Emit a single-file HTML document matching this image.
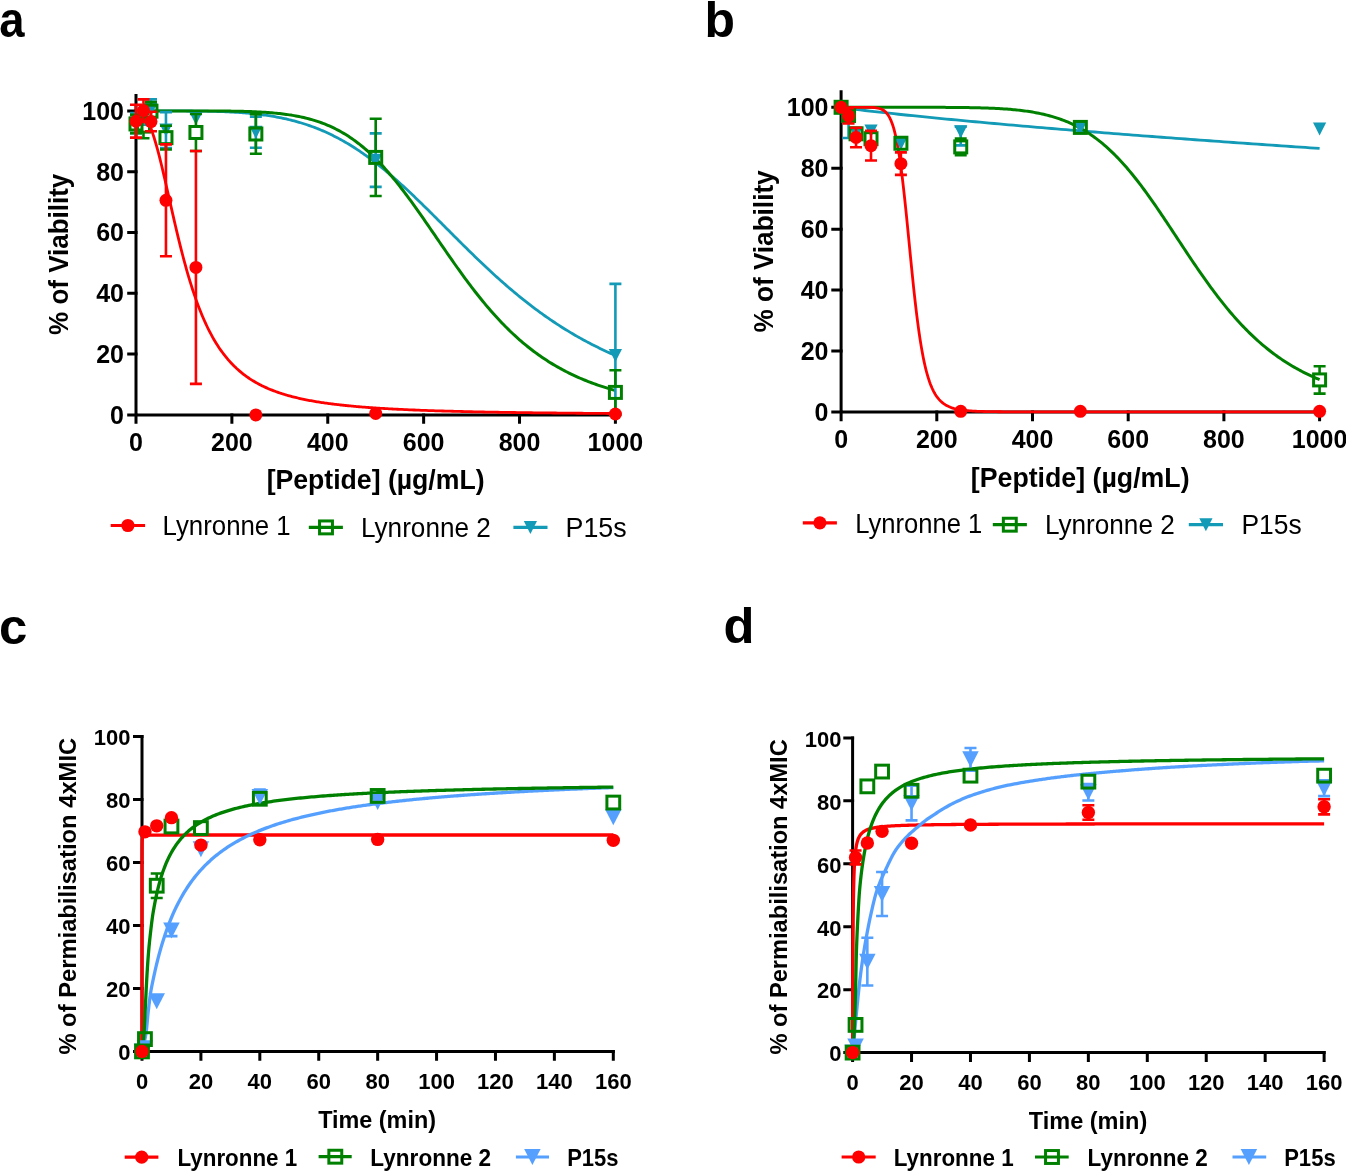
<!DOCTYPE html>
<html><head><meta charset="utf-8"><title>Figure</title><style>html,body{margin:0;padding:0;background:#fff;overflow:hidden}svg{display:block;will-change:transform}text{font-family:"Liberation Sans",sans-serif;fill:#000}</style></head><body>
<svg width="1346" height="1172" viewBox="0 0 1346 1172">
<rect width="1346" height="1172" fill="#fff"/>
<text x="-0.66" y="36.8" font-size="50" font-weight="bold" textLength="25.26" lengthAdjust="spacingAndGlyphs">a</text>
<text x="704.56" y="36.8" font-size="50" font-weight="bold" textLength="30.48" lengthAdjust="spacingAndGlyphs">b</text>
<text x="-1.14" y="643.5" font-size="50" font-weight="bold" textLength="28.32" lengthAdjust="spacingAndGlyphs">c</text>
<text x="723.47" y="643.3" font-size="50" font-weight="bold" textLength="30.97" lengthAdjust="spacingAndGlyphs">d</text>
<path d="M136 93.9V414.9" stroke="#000" stroke-width="3" fill="none"/>
<path d="M136 414.9H617" stroke="#000" stroke-width="3" fill="none"/>
<path d="M127.2 414.9H137.5M127.2 354.1H137.5M127.2 293.3H137.5M127.2 232.5H137.5M127.2 171.7H137.5M127.2 110.9H137.5M136 413.4V423.8M231.88 413.4V423.8M327.76 413.4V423.8M423.64 413.4V423.8M519.52 413.4V423.8M615.4 413.4V423.8" stroke="#000" stroke-width="3" fill="none"/>
<text x="124" y="423.7" font-size="25" font-weight="bold" text-anchor="end">0</text>
<text x="124" y="362.9" font-size="25" font-weight="bold" text-anchor="end">20</text>
<text x="124" y="302.1" font-size="25" font-weight="bold" text-anchor="end">40</text>
<text x="124" y="241.3" font-size="25" font-weight="bold" text-anchor="end">60</text>
<text x="124" y="180.5" font-size="25" font-weight="bold" text-anchor="end">80</text>
<text x="124" y="119.7" font-size="25" font-weight="bold" text-anchor="end">100</text>
<text x="136" y="450.5" font-size="25" font-weight="bold" text-anchor="middle">0</text>
<text x="231.88" y="450.5" font-size="25" font-weight="bold" text-anchor="middle">200</text>
<text x="327.76" y="450.5" font-size="25" font-weight="bold" text-anchor="middle">400</text>
<text x="423.64" y="450.5" font-size="25" font-weight="bold" text-anchor="middle">600</text>
<text x="519.52" y="450.5" font-size="25" font-weight="bold" text-anchor="middle">800</text>
<text x="615.4" y="450.5" font-size="25" font-weight="bold" text-anchor="middle">1000</text>
<text x="266.64" y="488.6" font-size="26.5" font-weight="bold" textLength="217.91" lengthAdjust="spacingAndGlyphs" transform="matrix(1 0 0 1.05 0 -24.43)">[Peptide] (µg/mL)</text>
<text transform="translate(67.6 334.95) rotate(-90) scale(1 1.05)" x="0" y="0" font-size="26" font-weight="bold" textLength="161.28" lengthAdjust="spacingAndGlyphs">% of Viability</text>
<path d="M136 110.9L137.6 110.9L139.2 110.9L140.79 110.9L142.39 110.9L143.99 110.9L145.59 110.9L147.19 110.9L148.78 110.9L150.38 110.9L151.98 110.9L153.58 110.9L155.18 110.9L156.77 110.9L158.37 110.9L159.97 110.9L161.57 110.9L163.17 110.91L164.76 110.91L166.36 110.91L167.96 110.91L169.56 110.91L171.16 110.92L172.75 110.92L174.35 110.92L175.95 110.93L177.55 110.93L179.15 110.94L180.74 110.94L182.34 110.95L183.94 110.96L185.54 110.97L187.14 110.98L188.73 110.99L190.33 111L191.93 111.02L193.53 111.03L195.13 111.05L196.72 111.07L198.32 111.09L199.92 111.11L201.52 111.13L203.12 111.16L204.71 111.18L206.31 111.21L207.91 111.24L209.51 111.28L211.11 111.32L212.7 111.36L214.3 111.4L215.9 111.44L217.5 111.49L219.1 111.54L220.69 111.6L222.29 111.66L223.89 111.72L225.49 111.78L227.09 111.85L228.68 111.93L230.28 112.01L231.88 112.09L233.48 112.18L235.08 112.27L236.67 112.37L238.27 112.47L239.87 112.58L241.47 112.69L243.07 112.81L244.66 112.94L246.26 113.07L247.86 113.21L249.46 113.35L251.06 113.51L252.65 113.66L254.25 113.83L255.85 114L257.45 114.18L259.05 114.37L260.64 114.57L262.24 114.77L263.84 114.99L265.44 115.21L267.04 115.44L268.63 115.68L270.23 115.93L271.83 116.19L273.43 116.46L275.03 116.74L276.62 117.03L278.22 117.33L279.82 117.64L281.42 117.96L283.02 118.29L284.61 118.64L286.21 118.99L287.81 119.36L289.41 119.74L291.01 120.13L292.6 120.54L294.2 120.96L295.8 121.39L297.4 121.83L299 122.29L300.59 122.76L302.19 123.25L303.79 123.75L305.39 124.26L306.99 124.79L308.58 125.33L310.18 125.89L311.78 126.46L313.38 127.05L314.98 127.65L316.57 128.27L318.17 128.9L319.77 129.55L321.37 130.22L322.97 130.9L324.56 131.59L326.16 132.31L327.76 133.04L329.36 133.79L330.96 134.55L332.55 135.33L334.15 136.13L335.75 136.94L337.35 137.78L338.95 138.62L340.54 139.49L342.14 140.37L343.74 141.27L345.34 142.19L346.94 143.12L348.53 144.07L350.13 145.04L351.73 146.03L353.33 147.03L354.93 148.05L356.52 149.09L358.12 150.14L359.72 151.21L361.32 152.3L362.92 153.4L364.51 154.52L366.11 155.66L367.71 156.81L369.31 157.98L370.91 159.17L372.5 160.37L374.1 161.59L375.7 162.82L377.3 164.07L378.9 165.33L380.49 166.61L382.09 167.9L383.69 169.2L385.29 170.53L386.89 171.86L388.48 173.21L390.08 174.57L391.68 175.94L393.28 177.33L394.88 178.73L396.47 180.14L398.07 181.56L399.67 183L401.27 184.44L402.87 185.9L404.46 187.36L406.06 188.84L407.66 190.33L409.26 191.82L410.86 193.33L412.45 194.84L414.05 196.36L415.65 197.89L417.25 199.43L418.85 200.97L420.44 202.52L422.04 204.08L423.64 205.64L425.24 207.21L426.84 208.78L428.43 210.36L430.03 211.94L431.63 213.53L433.23 215.12L434.83 216.71L436.42 218.3L438.02 219.9L439.62 221.5L441.22 223.1L442.82 224.7L444.41 226.3L446.01 227.91L447.61 229.51L449.21 231.11L450.81 232.71L452.4 234.31L454 235.91L455.6 237.51L457.2 239.1L458.8 240.69L460.39 242.28L461.99 243.87L463.59 245.45L465.19 247.03L466.79 248.6L468.38 250.17L469.98 251.74L471.58 253.3L473.18 254.85L474.78 256.4L476.37 257.95L477.97 259.48L479.57 261.01L481.17 262.54L482.77 264.05L484.36 265.56L485.96 267.06L487.56 268.56L489.16 270.04L490.76 271.52L492.35 272.99L493.95 274.45L495.55 275.91L497.15 277.35L498.75 278.79L500.34 280.21L501.94 281.63L503.54 283.04L505.14 284.43L506.74 285.82L508.33 287.2L509.93 288.57L511.53 289.92L513.13 291.27L514.73 292.61L516.32 293.94L517.92 295.25L519.52 296.56L521.12 297.86L522.72 299.14L524.31 300.42L525.91 301.68L527.51 302.93L529.11 304.17L530.71 305.4L532.3 306.62L533.9 307.83L535.5 309.03L537.1 310.22L538.7 311.39L540.29 312.56L541.89 313.71L543.49 314.85L545.09 315.99L546.69 317.11L548.28 318.22L549.88 319.31L551.48 320.4L553.08 321.48L554.68 322.54L556.27 323.6L557.87 324.64L559.47 325.68L561.07 326.7L562.67 327.71L564.26 328.71L565.86 329.7L567.46 330.68L569.06 331.65L570.66 332.61L572.25 333.55L573.85 334.49L575.45 335.42L577.05 336.34L578.65 337.24L580.24 338.14L581.84 339.03L583.44 339.9L585.04 340.77L586.64 341.63L588.23 342.47L589.83 343.31L591.43 344.14L593.03 344.96L594.63 345.77L596.22 346.56L597.82 347.35L599.42 348.14L601.02 348.91L602.62 349.67L604.21 350.42L605.81 351.17L607.41 351.9L609.01 352.63L610.61 353.35L612.2 354.06L613.8 354.76L615.4 355.45" stroke="#129ab6" stroke-width="2.8" fill="none" stroke-linejoin="round" stroke-linecap="butt"/>
<path d="M136 110.9L137.6 110.9L139.2 110.9L140.79 110.9L142.39 110.9L143.99 110.9L145.59 110.9L147.19 110.9L148.78 110.9L150.38 110.9L151.98 110.9L153.58 110.9L155.18 110.9L156.77 110.9L158.37 110.9L159.97 110.9L161.57 110.9L163.17 110.9L164.76 110.9L166.36 110.9L167.96 110.9L169.56 110.9L171.16 110.9L172.75 110.9L174.35 110.9L175.95 110.9L177.55 110.9L179.15 110.9L180.74 110.9L182.34 110.9L183.94 110.9L185.54 110.9L187.14 110.91L188.73 110.91L190.33 110.91L191.93 110.91L193.53 110.91L195.13 110.91L196.72 110.92L198.32 110.92L199.92 110.92L201.52 110.93L203.12 110.93L204.71 110.93L206.31 110.94L207.91 110.94L209.51 110.95L211.11 110.96L212.7 110.97L214.3 110.97L215.9 110.98L217.5 110.99L219.1 111L220.69 111.02L222.29 111.03L223.89 111.05L225.49 111.06L227.09 111.08L228.68 111.1L230.28 111.12L231.88 111.15L233.48 111.17L235.08 111.2L236.67 111.23L238.27 111.26L239.87 111.29L241.47 111.33L243.07 111.37L244.66 111.42L246.26 111.46L247.86 111.51L249.46 111.57L251.06 111.62L252.65 111.69L254.25 111.75L255.85 111.82L257.45 111.9L259.05 111.98L260.64 112.06L262.24 112.15L263.84 112.25L265.44 112.35L267.04 112.46L268.63 112.58L270.23 112.7L271.83 112.83L273.43 112.97L275.03 113.12L276.62 113.27L278.22 113.43L279.82 113.61L281.42 113.79L283.02 113.98L284.61 114.18L286.21 114.4L287.81 114.62L289.41 114.86L291.01 115.1L292.6 115.36L294.2 115.64L295.8 115.92L297.4 116.22L299 116.54L300.59 116.87L302.19 117.21L303.79 117.57L305.39 117.95L306.99 118.35L308.58 118.76L310.18 119.19L311.78 119.64L313.38 120.11L314.98 120.59L316.57 121.1L318.17 121.63L319.77 122.18L321.37 122.75L322.97 123.35L324.56 123.96L326.16 124.61L327.76 125.27L329.36 125.96L330.96 126.68L332.55 127.42L334.15 128.19L335.75 128.98L337.35 129.8L338.95 130.65L340.54 131.53L342.14 132.44L343.74 133.37L345.34 134.34L346.94 135.34L348.53 136.36L350.13 137.42L351.73 138.51L353.33 139.63L354.93 140.78L356.52 141.97L358.12 143.18L359.72 144.43L361.32 145.71L362.92 147.03L364.51 148.38L366.11 149.76L367.71 151.17L369.31 152.62L370.91 154.1L372.5 155.62L374.1 157.16L375.7 158.74L377.3 160.36L378.9 162L380.49 163.68L382.09 165.39L383.69 167.13L385.29 168.9L386.89 170.7L388.48 172.53L390.08 174.4L391.68 176.29L393.28 178.21L394.88 180.15L396.47 182.13L398.07 184.13L399.67 186.16L401.27 188.21L402.87 190.28L404.46 192.38L406.06 194.5L407.66 196.64L409.26 198.8L410.86 200.98L412.45 203.18L414.05 205.39L415.65 207.62L417.25 209.87L418.85 212.13L420.44 214.4L422.04 216.68L423.64 218.98L425.24 221.28L426.84 223.59L428.43 225.91L430.03 228.23L431.63 230.56L433.23 232.89L434.83 235.22L436.42 237.56L438.02 239.89L439.62 242.23L441.22 244.56L442.82 246.88L444.41 249.21L446.01 251.52L447.61 253.83L449.21 256.14L450.81 258.43L452.4 260.72L454 262.99L455.6 265.25L457.2 267.5L458.8 269.74L460.39 271.96L461.99 274.17L463.59 276.37L465.19 278.54L466.79 280.7L468.38 282.84L469.98 284.97L471.58 287.07L473.18 289.16L474.78 291.22L476.37 293.27L477.97 295.29L479.57 297.3L481.17 299.28L482.77 301.24L484.36 303.17L485.96 305.09L487.56 306.98L489.16 308.85L490.76 310.69L492.35 312.51L493.95 314.31L495.55 316.08L497.15 317.83L498.75 319.55L500.34 321.25L501.94 322.93L503.54 324.58L505.14 326.21L506.74 327.81L508.33 329.39L509.93 330.95L511.53 332.48L513.13 333.98L514.73 335.47L516.32 336.92L517.92 338.36L519.52 339.77L521.12 341.16L522.72 342.52L524.31 343.87L525.91 345.19L527.51 346.48L529.11 347.76L530.71 349.01L532.3 350.24L533.9 351.45L535.5 352.63L537.1 353.8L538.7 354.95L540.29 356.07L541.89 357.17L543.49 358.26L545.09 359.32L546.69 360.36L548.28 361.39L549.88 362.4L551.48 363.38L553.08 364.35L554.68 365.3L556.27 366.23L557.87 367.15L559.47 368.04L561.07 368.92L562.67 369.79L564.26 370.63L565.86 371.46L567.46 372.28L569.06 373.08L570.66 373.86L572.25 374.63L573.85 375.38L575.45 376.12L577.05 376.84L578.65 377.55L580.24 378.25L581.84 378.93L583.44 379.6L585.04 380.25L586.64 380.89L588.23 381.52L589.83 382.14L591.43 382.75L593.03 383.34L594.63 383.92L596.22 384.49L597.82 385.05L599.42 385.6L601.02 386.14L602.62 386.66L604.21 387.18L605.81 387.68L607.41 388.18L609.01 388.67L610.61 389.14L612.2 389.61L613.8 390.07L615.4 390.51" stroke="#008000" stroke-width="3" fill="none" stroke-linejoin="round" stroke-linecap="butt"/>
<path d="M136 110.9L138.4 111.15L139.6 111.55L140.79 112.17L141.99 113.05L143.19 114.19L144.39 115.61L145.59 117.32L146.79 119.32L147.99 121.62L149.18 124.2L150.38 127.08L151.58 130.23L152.78 133.64L153.98 137.31L155.18 141.23L156.37 145.36L157.57 149.7L158.77 154.23L159.97 158.93L161.17 163.77L162.37 168.74L163.57 173.81L164.76 178.97L165.96 184.19L167.16 189.46L168.36 194.76L169.56 200.08L170.76 205.38L171.95 210.67L173.15 215.92L174.35 221.13L175.55 226.28L176.75 231.37L177.95 236.38L179.15 241.3L180.34 246.14L181.54 250.88L182.74 255.52L183.94 260.05L185.14 264.48L186.34 268.8L187.54 273.01L188.73 277.11L189.93 281.09L191.13 284.96L192.33 288.73L193.53 292.38L194.73 295.92L195.93 299.35L197.12 302.68L198.32 305.9L199.52 309.03L200.72 312.05L201.92 314.98L203.12 317.81L204.31 320.55L205.51 323.2L206.71 325.76L207.91 328.24L209.11 330.63L210.31 332.95L211.51 335.19L212.7 337.36L213.9 339.45L215.1 341.48L216.3 343.44L217.5 345.33L218.7 347.16L219.89 348.93L221.09 350.64L222.29 352.3L223.49 353.9L224.69 355.45L225.89 356.95L227.09 358.41L228.28 359.81L229.48 361.17L230.68 362.49L231.88 363.76L233.08 365L234.28 366.2L235.48 367.35L236.67 368.48L237.87 369.56L239.07 370.62L240.27 371.64L241.47 372.63L242.67 373.59L243.87 374.53L245.06 375.43L246.26 376.31L247.46 377.16L248.66 377.99L249.86 378.79L251.06 379.57L252.25 380.32L253.45 381.06L254.65 381.77L255.85 382.47L257.05 383.14L258.25 383.8L259.45 384.43L260.64 385.05L261.84 385.65L263.04 386.24L264.24 386.81L265.44 387.36L266.64 387.9L267.84 388.43L269.03 388.94L270.23 389.44L271.43 389.92L272.63 390.4L273.83 390.86L275.03 391.31L276.22 391.74L277.42 392.17L278.62 392.58L279.82 392.99L281.02 393.38L282.22 393.77L283.42 394.15L284.61 394.51L285.81 394.87L287.01 395.22L288.21 395.56L289.41 395.89L290.61 396.22L291.81 396.53L293 396.84L294.2 397.15L295.4 397.44L296.6 397.73L297.8 398.01L299 398.29L300.19 398.56L301.39 398.82L302.59 399.08L303.79 399.33L304.99 399.58L306.19 399.82L307.39 400.05L308.58 400.28L309.78 400.51L310.98 400.73L312.18 400.95L313.38 401.16L314.58 401.36L315.77 401.57L316.97 401.76L318.17 401.96L319.37 402.15L320.57 402.34L321.77 402.52L322.97 402.7L324.16 402.87L325.36 403.05L326.56 403.21L327.76 403.38L328.96 403.54L330.16 403.7L331.36 403.85L332.55 404.01L333.75 404.16L334.95 404.3L336.15 404.45L337.35 404.59L338.55 404.73L339.75 404.86L340.94 405L342.14 405.13L343.34 405.26L344.54 405.38L345.74 405.51L346.94 405.63L348.13 405.75L349.33 405.87L350.53 405.98L351.73 406.09L352.93 406.2L354.13 406.31L355.33 406.42L356.52 406.53L357.72 406.63L358.92 406.73L360.12 406.83L361.32 406.93L362.52 407.03L363.72 407.12L364.91 407.21L366.11 407.31L367.31 407.4L368.51 407.49L369.71 407.57L370.91 407.66L372.1 407.74L373.3 407.83L374.5 407.91L375.7 407.99L376.9 408.07L378.1 408.15L379.3 408.22L380.49 408.3L381.69 408.37L382.89 408.44L384.09 408.52L385.29 408.59L386.49 408.66L387.69 408.72L388.88 408.79L390.08 408.86L391.28 408.92L392.48 408.99L393.68 409.05L394.88 409.11L396.07 409.18L397.27 409.24L399.67 409.36L402.07 409.47L404.46 409.58L406.86 409.69L409.26 409.8L411.65 409.9L414.05 410L416.45 410.09L418.85 410.19L421.24 410.28L423.64 410.37L426.04 410.46L428.43 410.54L430.83 410.62L433.23 410.7L435.62 410.78L438.02 410.86L440.42 410.93L442.82 411L445.21 411.07L447.61 411.14L450.01 411.21L452.4 411.27L454.8 411.33L457.2 411.4L459.59 411.46L461.99 411.51L464.39 411.57L466.79 411.63L469.18 411.68L471.58 411.74L473.98 411.79L476.37 411.84L478.77 411.89L481.17 411.94L483.56 411.99L485.96 412.03L488.36 412.08L490.76 412.12L493.15 412.17L495.55 412.21L497.95 412.25L500.34 412.29L502.74 412.33L505.14 412.37L507.53 412.41L509.93 412.44L512.33 412.48L514.73 412.52L517.12 412.55L519.52 412.59L521.92 412.62L524.31 412.65L526.71 412.68L529.11 412.72L531.5 412.75L533.9 412.78L536.3 412.81L538.7 412.84L541.09 412.86L543.49 412.89L545.89 412.92L548.28 412.95L550.68 412.97L553.08 413L555.47 413.02L557.87 413.05L560.27 413.07L562.67 413.1L565.06 413.12L567.46 413.14L569.86 413.17L572.25 413.19L574.65 413.21L577.05 413.23L579.44 413.25L581.84 413.27L584.24 413.29L586.64 413.31L589.03 413.33L591.43 413.35L593.83 413.37L596.22 413.39L598.62 413.41L601.02 413.43L603.41 413.44L605.81 413.46L608.21 413.48L610.61 413.5L613 413.51L615.4 413.53" stroke="#ff0000" stroke-width="2.8" fill="none" stroke-linejoin="round" stroke-linecap="butt"/>
<path d="M136 123.05V113.03M130 113.03H142M136 123.07V133.09M130 133.09H142" stroke="#129ab6" stroke-width="2.6" fill="none"/>
<path d="M143.48 116.97V109.38M137.48 109.38H149.48M143.48 116.99V124.58M137.48 124.58H149.48" stroke="#129ab6" stroke-width="2.6" fill="none"/>
<path d="M150.98 109.37V99.35M144.98 99.35H156.98M150.98 109.39V119.41M144.98 119.41H156.98" stroke="#129ab6" stroke-width="2.6" fill="none"/>
<path d="M165.96 130.04V112.12M159.96 112.12H171.96M165.96 130.06V147.99M159.96 147.99H171.96" stroke="#129ab6" stroke-width="2.6" fill="none"/>
<path d="M255.85 132.17V116.68M249.85 116.68H261.85M255.85 132.19V147.68M249.85 147.68H261.85" stroke="#129ab6" stroke-width="2.6" fill="none"/>
<path d="M375.7 160.14V133.4M369.7 133.4H381.7M375.7 160.16V186.9M369.7 186.9H381.7" stroke="#129ab6" stroke-width="2.6" fill="none"/>
<path d="M615.4 355.61V283.88M609.4 283.88H621.4M615.4 355.63V414.9M609.4 414.9H621.4" stroke="#129ab6" stroke-width="2.6" fill="none"/>
<path d="M129.4 116.56H142.6L136 129.56Z" fill="#129ab6"/>
<path d="M136.88 110.48H150.08L143.48 123.48Z" fill="#129ab6"/>
<path d="M144.38 102.88H157.58L150.98 115.88Z" fill="#129ab6"/>
<path d="M159.36 123.55H172.56L165.96 136.55Z" fill="#129ab6"/>
<path d="M189.33 112H202.53L195.93 125Z" fill="#129ab6"/>
<path d="M249.25 125.68H262.45L255.85 138.68Z" fill="#129ab6"/>
<path d="M369.1 153.65H382.3L375.7 166.65Z" fill="#129ab6"/>
<path d="M608.8 349.12H622L615.4 362.12Z" fill="#129ab6"/>
<path d="M136 116.97V114.85M130 114.85H142M136 130.97V133.09M130 133.09H142" stroke="#008000" stroke-width="2.6" fill="none"/>
<path d="M143.48 119.1V113.94M137.48 113.94H149.48M143.48 133.1V138.26M137.48 138.26H149.48" stroke="#008000" stroke-width="2.6" fill="none"/>
<path d="M150.98 104.2V102.08M144.98 102.08H156.98M150.98 118.2V120.32M144.98 120.32H156.98" stroke="#008000" stroke-width="2.6" fill="none"/>
<path d="M165.96 130.65V125.8M159.96 125.8H171.96M165.96 144.65V149.51M159.96 149.51H171.96" stroke="#008000" stroke-width="2.6" fill="none"/>
<path d="M195.93 125.48V113.94M189.93 113.94H201.93M195.93 139.48V151.03M189.93 151.03H201.93" stroke="#008000" stroke-width="2.6" fill="none"/>
<path d="M255.85 127V114.24M249.85 114.24H261.85M255.85 141V153.76M249.85 153.76H261.85" stroke="#008000" stroke-width="2.6" fill="none"/>
<path d="M375.7 150.41V118.8M369.7 118.8H381.7M375.7 164.41V196.02M369.7 196.02H381.7" stroke="#008000" stroke-width="2.6" fill="none"/>
<path d="M615.4 385.4V370.21M609.4 370.21H621.4M615.4 399.4V414.6M609.4 414.6H621.4" stroke="#008000" stroke-width="2.6" fill="none"/>
<rect x="130" y="117.97" width="12" height="12" fill="none" stroke="#008000" stroke-width="3"/>
<rect x="137.48" y="120.1" width="12" height="12" fill="none" stroke="#008000" stroke-width="3"/>
<rect x="144.98" y="105.2" width="12" height="12" fill="none" stroke="#008000" stroke-width="3"/>
<rect x="159.96" y="131.65" width="12" height="12" fill="none" stroke="#008000" stroke-width="3"/>
<rect x="189.93" y="126.48" width="12" height="12" fill="none" stroke="#008000" stroke-width="3"/>
<rect x="249.85" y="128" width="12" height="12" fill="none" stroke="#008000" stroke-width="3"/>
<rect x="369.7" y="151.41" width="12" height="12" fill="none" stroke="#008000" stroke-width="3"/>
<rect x="609.4" y="386.4" width="12" height="12" fill="none" stroke="#008000" stroke-width="3"/>
<path d="M136 121.23V104.82M130 104.82H142M136 121.25V137.65M130 137.65H142" stroke="#ff0000" stroke-width="2.6" fill="none"/>
<path d="M143.48 110.59V99.35M137.48 99.35H149.48M143.48 110.61V121.84M137.48 121.84H149.48" stroke="#ff0000" stroke-width="2.6" fill="none"/>
<path d="M150.98 121.53V111.81M144.98 111.81H156.98M150.98 121.55V131.27M144.98 131.27H156.98" stroke="#ff0000" stroke-width="2.6" fill="none"/>
<path d="M165.96 200.27V144.34M159.96 144.34H171.96M165.96 200.29V256.21M159.96 256.21H171.96" stroke="#ff0000" stroke-width="2.6" fill="none"/>
<path d="M195.93 267.45V151.03M189.93 151.03H201.93M195.93 267.47V383.89M189.93 383.89H201.93" stroke="#ff0000" stroke-width="2.6" fill="none"/>
<circle cx="136" cy="121.24" r="6.5" fill="#ff0000"/>
<circle cx="143.48" cy="110.6" r="6.5" fill="#ff0000"/>
<circle cx="150.98" cy="121.54" r="6.5" fill="#ff0000"/>
<circle cx="165.96" cy="200.28" r="6.5" fill="#ff0000"/>
<circle cx="195.93" cy="267.46" r="6.5" fill="#ff0000"/>
<circle cx="255.85" cy="414.9" r="6.5" fill="#ff0000"/>
<circle cx="375.7" cy="413.38" r="6.5" fill="#ff0000"/>
<circle cx="615.4" cy="413.99" r="6.5" fill="#ff0000"/>
<path d="M110.7 525.5H145.1" stroke="#ff0000" stroke-width="3.2"/>
<circle cx="127.9" cy="525.5" r="6.6" fill="#ff0000"/>
<path d="M308.8 527.4H342.9" stroke="#008000" stroke-width="3.2"/>
<rect x="319.55" y="520.95" width="12.9" height="12.9" fill="none" stroke="#008000" stroke-width="3"/>
<path d="M513.4 527.4H547.5" stroke="#129ab6" stroke-width="3.2"/>
<path d="M523.8 520.9H537L530.4 533.9Z" fill="#129ab6"/>
<text x="162.54" y="535.3" font-size="26" font-weight="normal" textLength="128.21" lengthAdjust="spacingAndGlyphs" transform="matrix(1 0 0 1.05 0 -26.77)">Lynronne 1</text>
<text x="361.01" y="537.4" font-size="26" font-weight="normal" textLength="129.75" lengthAdjust="spacingAndGlyphs" transform="matrix(1 0 0 1.05 0 -26.87)">Lynronne 2</text>
<text x="565.55" y="537.4" font-size="26" font-weight="normal" textLength="61.17" lengthAdjust="spacingAndGlyphs" transform="matrix(1 0 0 1.05 0 -26.87)">P15s</text>
<path d="M841.1 90.2V411.9" stroke="#000" stroke-width="3" fill="none"/>
<path d="M841.1 411.9H1321" stroke="#000" stroke-width="3" fill="none"/>
<path d="M831.3 411.9H842.6M831.3 350.98H842.6M831.3 290.06H842.6M831.3 229.14H842.6M831.3 168.22H842.6M831.3 107.3H842.6M841.1 410.4V421.3M936.8 410.4V421.3M1032.5 410.4V421.3M1128.2 410.4V421.3M1223.9 410.4V421.3M1319.6 410.4V421.3" stroke="#000" stroke-width="3" fill="none"/>
<text x="828.5" y="420.7" font-size="25" font-weight="bold" text-anchor="end">0</text>
<text x="828.5" y="359.78" font-size="25" font-weight="bold" text-anchor="end">20</text>
<text x="828.5" y="298.86" font-size="25" font-weight="bold" text-anchor="end">40</text>
<text x="828.5" y="237.94" font-size="25" font-weight="bold" text-anchor="end">60</text>
<text x="828.5" y="177.02" font-size="25" font-weight="bold" text-anchor="end">80</text>
<text x="828.5" y="116.1" font-size="25" font-weight="bold" text-anchor="end">100</text>
<text x="841.1" y="447.8" font-size="25" font-weight="bold" text-anchor="middle">0</text>
<text x="936.8" y="447.8" font-size="25" font-weight="bold" text-anchor="middle">200</text>
<text x="1032.5" y="447.8" font-size="25" font-weight="bold" text-anchor="middle">400</text>
<text x="1128.2" y="447.8" font-size="25" font-weight="bold" text-anchor="middle">600</text>
<text x="1223.9" y="447.8" font-size="25" font-weight="bold" text-anchor="middle">800</text>
<text x="1319.6" y="447.8" font-size="25" font-weight="bold" text-anchor="middle">1000</text>
<text x="970.83" y="486.6" font-size="26.5" font-weight="bold" textLength="218.72" lengthAdjust="spacingAndGlyphs" transform="matrix(1 0 0 1.05 0 -24.33)">[Peptide] (µg/mL)</text>
<text transform="translate(772.6 332.55) rotate(-90) scale(1 1.05)" x="0" y="0" font-size="26" font-weight="bold" textLength="162.19" lengthAdjust="spacingAndGlyphs">% of Viability</text>
<path d="M841.1 107.3L845.88 108.06L850.67 108.72L855.46 109.33L860.24 109.93L865.02 110.5L869.81 111.06L874.6 111.61L879.38 112.15L884.16 112.69L888.95 113.21L893.74 113.73L898.52 114.24L903.31 114.74L908.09 115.24L912.88 115.73L917.66 116.22L922.45 116.7L927.23 117.18L932.01 117.65L936.8 118.12L941.59 118.59L946.37 119.05L951.15 119.51L955.94 119.97L960.73 120.42L965.51 120.87L970.3 121.31L975.08 121.76L979.87 122.2L984.65 122.63L989.44 123.07L994.22 123.5L999 123.93L1003.79 124.35L1008.58 124.78L1013.36 125.2L1018.14 125.62L1022.93 126.03L1027.71 126.45L1032.5 126.86L1037.29 127.27L1042.07 127.67L1046.86 128.08L1051.64 128.48L1056.42 128.88L1061.21 129.28L1065.99 129.68L1070.78 130.07L1075.57 130.47L1080.35 130.86L1085.13 131.25L1089.92 131.63L1094.7 132.02L1099.49 132.4L1104.28 132.78L1109.06 133.16L1113.85 133.54L1118.63 133.92L1123.41 134.29L1128.2 134.67L1132.99 135.04L1137.77 135.41L1142.56 135.78L1147.34 136.14L1152.12 136.51L1156.91 136.87L1161.69 137.23L1166.48 137.59L1171.26 137.95L1176.05 138.31L1180.84 138.67L1185.62 139.02L1190.4 139.37L1195.19 139.73L1199.97 140.08L1204.76 140.43L1209.55 140.77L1214.33 141.12L1219.12 141.47L1223.9 141.81L1228.68 142.15L1233.47 142.49L1238.26 142.83L1243.04 143.17L1247.83 143.51L1252.61 143.84L1257.39 144.18L1262.18 144.51L1266.97 144.85L1271.75 145.18L1276.54 145.51L1281.32 145.84L1286.11 146.16L1290.89 146.49L1295.67 146.81L1300.46 147.14L1305.24 147.46L1310.03 147.78L1314.82 148.1L1319.6 148.42" stroke="#129ab6" stroke-width="2.8" fill="none" stroke-linejoin="round" stroke-linecap="butt"/>
<path d="M841.1 107.3L842.7 107.3L844.29 107.3L845.88 107.3L847.48 107.3L849.08 107.3L850.67 107.3L852.26 107.3L853.86 107.3L855.46 107.3L857.05 107.3L858.64 107.3L860.24 107.3L861.84 107.3L863.43 107.3L865.02 107.3L866.62 107.3L868.22 107.3L869.81 107.3L871.4 107.3L873 107.3L874.6 107.3L876.19 107.3L877.79 107.3L879.38 107.3L880.98 107.3L882.57 107.3L884.16 107.3L885.76 107.3L887.36 107.3L888.95 107.3L890.55 107.3L892.14 107.3L893.74 107.3L895.33 107.3L896.93 107.3L898.52 107.3L900.12 107.3L901.71 107.3L903.31 107.3L904.9 107.3L906.5 107.3L908.09 107.3L909.69 107.3L911.28 107.31L912.88 107.31L914.47 107.31L916.07 107.31L917.66 107.31L919.25 107.31L920.85 107.31L922.45 107.31L924.04 107.32L925.63 107.32L927.23 107.32L928.83 107.32L930.42 107.33L932.01 107.33L933.61 107.33L935.21 107.34L936.8 107.34L938.39 107.35L939.99 107.35L941.59 107.36L943.18 107.37L944.77 107.37L946.37 107.38L947.97 107.39L949.56 107.4L951.15 107.41L952.75 107.42L954.35 107.43L955.94 107.45L957.54 107.46L959.13 107.48L960.73 107.5L962.32 107.51L963.91 107.53L965.51 107.56L967.11 107.58L968.7 107.6L970.3 107.63L971.89 107.66L973.49 107.69L975.08 107.72L976.67 107.76L978.27 107.8L979.87 107.84L981.46 107.88L983.06 107.93L984.65 107.98L986.25 108.03L987.84 108.09L989.44 108.15L991.03 108.22L992.62 108.28L994.22 108.36L995.82 108.43L997.41 108.52L999 108.6L1000.6 108.69L1002.2 108.79L1003.79 108.9L1005.38 109.01L1006.98 109.12L1008.58 109.24L1010.17 109.37L1011.76 109.51L1013.36 109.65L1014.96 109.81L1016.55 109.97L1018.14 110.13L1019.74 110.31L1021.34 110.5L1022.93 110.7L1024.53 110.9L1026.12 111.12L1027.71 111.35L1029.31 111.59L1030.9 111.84L1032.5 112.1L1034.1 112.38L1035.69 112.66L1037.29 112.97L1038.88 113.28L1040.47 113.61L1042.07 113.96L1043.66 114.32L1045.26 114.7L1046.86 115.09L1048.45 115.5L1050.05 115.93L1051.64 116.38L1053.24 116.85L1054.83 117.33L1056.42 117.84L1058.02 118.36L1059.62 118.91L1061.21 119.48L1062.81 120.07L1064.4 120.68L1065.99 121.32L1067.59 121.98L1069.18 122.67L1070.78 123.38L1072.38 124.11L1073.97 124.88L1075.57 125.67L1077.16 126.48L1078.76 127.33L1080.35 128.2L1081.94 129.1L1083.54 130.03L1085.13 131L1086.73 131.99L1088.33 133.01L1089.92 134.07L1091.52 135.15L1093.11 136.27L1094.7 137.42L1096.3 138.61L1097.89 139.82L1099.49 141.08L1101.09 142.36L1102.68 143.68L1104.28 145.03L1105.87 146.42L1107.46 147.84L1109.06 149.3L1110.65 150.79L1112.25 152.32L1113.85 153.88L1115.44 155.47L1117.03 157.1L1118.63 158.77L1120.22 160.47L1121.82 162.2L1123.41 163.96L1125.01 165.76L1126.61 167.59L1128.2 169.46L1129.8 171.35L1131.39 173.28L1132.99 175.24L1134.58 177.23L1136.17 179.24L1137.77 181.29L1139.37 183.36L1140.96 185.46L1142.56 187.59L1144.15 189.74L1145.74 191.92L1147.34 194.12L1148.93 196.34L1150.53 198.59L1152.12 200.85L1153.72 203.13L1155.32 205.44L1156.91 207.75L1158.51 210.09L1160.1 212.43L1161.69 214.79L1163.29 217.17L1164.88 219.55L1166.48 221.94L1168.08 224.35L1169.67 226.75L1171.26 229.17L1172.86 231.58L1174.45 234L1176.05 236.43L1177.64 238.85L1179.24 241.27L1180.84 243.69L1182.43 246.11L1184.03 248.52L1185.62 250.93L1187.22 253.33L1188.81 255.72L1190.4 258.1L1192 260.48L1193.6 262.84L1195.19 265.19L1196.79 267.52L1198.38 269.85L1199.97 272.15L1201.57 274.44L1203.16 276.72L1204.76 278.98L1206.36 281.21L1207.95 283.43L1209.55 285.63L1211.14 287.81L1212.74 289.97L1214.33 292.1L1215.92 294.22L1217.52 296.31L1219.12 298.37L1220.71 300.42L1222.31 302.44L1223.9 304.43L1225.49 306.4L1227.09 308.35L1228.68 310.26L1230.28 312.16L1231.88 314.03L1233.47 315.87L1235.07 317.68L1236.66 319.47L1238.26 321.23L1239.85 322.97L1241.44 324.68L1243.04 326.36L1244.63 328.02L1246.23 329.65L1247.83 331.25L1249.42 332.83L1251.01 334.38L1252.61 335.91L1254.2 337.41L1255.8 338.88L1257.39 340.33L1258.99 341.75L1260.59 343.15L1262.18 344.52L1263.78 345.86L1265.37 347.19L1266.97 348.49L1268.56 349.76L1270.15 351.01L1271.75 352.24L1273.35 353.44L1274.94 354.62L1276.54 355.78L1278.13 356.92L1279.72 358.03L1281.32 359.12L1282.91 360.19L1284.51 361.24L1286.11 362.27L1287.7 363.28L1289.3 364.27L1290.89 365.24L1292.49 366.19L1294.08 367.11L1295.67 368.03L1297.27 368.92L1298.87 369.79L1300.46 370.65L1302.06 371.49L1303.65 372.31L1305.24 373.11L1306.84 373.9L1308.43 374.67L1310.03 375.42L1311.62 376.16L1313.22 376.89L1314.82 377.6L1316.41 378.29L1318.01 378.97L1319.6 379.63" stroke="#008000" stroke-width="3" fill="none" stroke-linejoin="round" stroke-linecap="butt"/>
<path d="M841.1 107.3L842.7 107.3L844.29 107.3L845.88 107.3L847.48 107.3L849.08 107.3L850.67 107.3L852.26 107.3L853.86 107.3L855.46 107.3L857.05 107.3L858.64 107.3L860.24 107.3L861.84 107.3L863.43 107.31L865.02 107.32L866.62 107.33L868.22 107.35L869.81 107.38L871.4 107.44L873 107.52L874.6 107.65L876.19 107.83L877.79 108.1L879.38 108.49L880.98 109.03L882.57 109.78L884.16 110.8L885.76 112.18L887.36 114.01L888.15 115.13L888.95 116.41L889.75 117.87L890.55 119.52L891.34 121.38L892.14 123.47L892.94 125.81L893.74 128.43L894.53 131.34L895.33 134.56L896.13 138.1L896.93 141.99L897.72 146.24L898.52 150.86L899.32 155.85L900.12 161.21L900.91 166.95L901.71 173.05L902.51 179.51L903.31 186.29L904.1 193.39L904.9 200.76L905.7 208.37L906.5 216.19L907.29 224.16L908.09 232.24L908.89 240.39L909.69 248.56L910.48 256.69L911.28 264.75L912.08 272.68L912.88 280.46L913.67 288.05L914.47 295.41L915.27 302.52L916.07 309.36L916.86 315.92L917.66 322.18L918.46 328.13L919.25 333.77L920.05 339.11L920.85 344.14L921.65 348.87L922.45 353.3L923.24 357.46L924.04 361.35L924.84 364.97L925.63 368.35L926.43 371.5L927.23 374.42L928.03 377.14L928.83 379.66L929.62 382L930.42 384.16L931.22 386.17L932.01 388.03L932.81 389.75L933.61 391.34L934.41 392.81L935.21 394.17L936 395.43L936.8 396.6L937.6 397.68L938.39 398.68L939.19 399.6L940.79 401.25L942.38 402.66L943.98 403.87L945.57 404.91L947.17 405.81L948.76 406.58L950.36 407.25L951.95 407.83L953.55 408.32L955.14 408.76L956.74 409.13L958.33 409.46L959.93 409.74L961.52 409.99L963.12 410.21L964.71 410.4L966.31 410.57L967.9 410.72L969.5 410.84L971.09 410.96L972.69 411.06L974.28 411.15L975.88 411.23L977.47 411.29L979.07 411.36L980.66 411.41L982.26 411.46L983.85 411.5L985.45 411.54L987.04 411.58L988.64 411.61L990.23 411.64L991.83 411.66L993.42 411.68L995.02 411.7L996.61 411.72L998.21 411.74L999.8 411.75L1001.4 411.76L1002.99 411.78L1004.59 411.79L1006.18 411.8L1007.78 411.81L1009.37 411.81L1010.97 411.82L1012.56 411.83L1014.16 411.83L1015.75 411.84L1017.35 411.84L1018.94 411.85L1020.54 411.85L1022.13 411.86L1023.73 411.86L1025.32 411.86L1026.92 411.87L1028.51 411.87L1030.11 411.87L1031.7 411.87L1033.3 411.87L1034.89 411.88L1036.49 411.88L1038.08 411.88L1039.68 411.88L1041.27 411.88L1042.87 411.88L1044.46 411.89L1046.06 411.89L1047.65 411.89L1049.25 411.89L1050.84 411.89L1052.44 411.89L1054.03 411.89L1055.63 411.89L1057.22 411.89L1058.82 411.89L1060.41 411.89L1062.01 411.89L1063.6 411.89L1065.2 411.89L1066.79 411.89L1068.39 411.89L1069.98 411.89L1071.58 411.9L1073.17 411.9L1074.77 411.9L1076.36 411.9L1077.96 411.9L1079.55 411.9L1081.15 411.9L1082.74 411.9L1084.34 411.9L1085.93 411.9L1087.53 411.9L1089.12 411.9L1090.72 411.9L1092.31 411.9L1093.91 411.9L1095.5 411.9L1097.1 411.9L1098.69 411.9L1100.29 411.9L1101.88 411.9L1103.48 411.9L1105.07 411.9L1106.67 411.9L1108.26 411.9L1109.86 411.9L1111.45 411.9L1113.05 411.9L1114.64 411.9L1116.24 411.9L1117.83 411.9L1119.43 411.9L1121.02 411.9L1122.62 411.9L1124.21 411.9L1125.81 411.9L1127.4 411.9L1129 411.9L1130.59 411.9L1132.19 411.9L1133.78 411.9L1135.38 411.9L1136.97 411.9L1138.57 411.9L1140.16 411.9L1141.76 411.9L1143.35 411.9L1144.95 411.9L1146.54 411.9L1148.14 411.9L1149.73 411.9L1151.33 411.9L1152.92 411.9L1154.52 411.9L1156.11 411.9L1157.71 411.9L1159.3 411.9L1160.9 411.9L1162.49 411.9L1164.09 411.9L1165.68 411.9L1167.28 411.9L1168.87 411.9L1170.47 411.9L1172.06 411.9L1173.66 411.9L1175.25 411.9L1176.85 411.9L1178.44 411.9L1180.04 411.9L1181.63 411.9L1183.23 411.9L1184.82 411.9L1186.42 411.9L1188.01 411.9L1189.61 411.9L1191.2 411.9L1192.8 411.9L1194.39 411.9L1195.99 411.9L1197.58 411.9L1199.18 411.9L1200.77 411.9L1202.37 411.9L1203.96 411.9L1205.56 411.9L1207.15 411.9L1208.75 411.9L1210.34 411.9L1211.94 411.9L1213.53 411.9L1215.13 411.9L1216.72 411.9L1218.32 411.9L1219.91 411.9L1221.51 411.9L1223.1 411.9L1224.7 411.9L1226.29 411.9L1227.89 411.9L1229.48 411.9L1231.08 411.9L1232.67 411.9L1234.27 411.9L1235.86 411.9L1237.46 411.9L1239.05 411.9L1240.65 411.9L1242.24 411.9L1243.84 411.9L1245.43 411.9L1247.03 411.9L1248.62 411.9L1250.22 411.9L1251.81 411.9L1253.41 411.9L1255 411.9L1256.6 411.9L1258.19 411.9L1259.79 411.9L1261.38 411.9L1262.98 411.9L1264.57 411.9L1266.17 411.9L1267.76 411.9L1269.36 411.9L1270.95 411.9L1272.55 411.9L1274.14 411.9L1275.74 411.9L1277.33 411.9L1278.93 411.9L1280.52 411.9L1282.12 411.9L1283.71 411.9L1285.31 411.9L1286.9 411.9L1288.5 411.9L1290.09 411.9L1291.69 411.9L1293.28 411.9L1294.88 411.9L1296.47 411.9L1298.07 411.9L1299.66 411.9L1301.26 411.9L1302.85 411.9L1304.45 411.9L1306.04 411.9L1307.64 411.9L1309.23 411.9L1310.83 411.9L1312.42 411.9L1314.02 411.9L1315.61 411.9L1317.21 411.9L1318.8 411.9L1319.6 411.9" stroke="#ff0000" stroke-width="2.8" fill="none" stroke-linejoin="round" stroke-linecap="butt"/>
<path d="M848.56 114.93V138.06M842.56 138.06H854.56" stroke="#129ab6" stroke-width="2.6" fill="none"/>
<path d="M960.73 131.66V126.79M954.73 126.79H966.73M960.73 131.68V145.38M954.73 145.38H966.73" stroke="#129ab6" stroke-width="2.6" fill="none"/>
<path d="M834.5 100.8H847.7L841.1 113.8Z" fill="#129ab6"/>
<path d="M841.96 108.42H855.16L848.56 121.42Z" fill="#129ab6"/>
<path d="M849.45 126.69H862.65L856.05 139.69Z" fill="#129ab6"/>
<path d="M864.41 124.56H877.61L871.01 137.56Z" fill="#129ab6"/>
<path d="M894.31 137.05H907.51L900.91 150.05Z" fill="#129ab6"/>
<path d="M954.12 125.17H967.33L960.73 138.17Z" fill="#129ab6"/>
<path d="M1073.75 121.51H1086.95L1080.35 134.51Z" fill="#129ab6"/>
<path d="M1313 122.43H1326.2L1319.6 135.43Z" fill="#129ab6"/>
<path d="M960.73 139.9V138.67M954.73 138.67H966.73M960.73 153.9V155.12M954.73 155.12H966.73" stroke="#008000" stroke-width="2.6" fill="none"/>
<path d="M1319.6 372.92V366.21M1313.6 366.21H1325.6M1319.6 386.92V393.62M1313.6 393.62H1325.6" stroke="#008000" stroke-width="2.6" fill="none"/>
<rect x="835.1" y="101.3" width="12" height="12" fill="none" stroke="#008000" stroke-width="3"/>
<rect x="842.56" y="109.52" width="12" height="12" fill="none" stroke="#008000" stroke-width="3"/>
<rect x="850.05" y="127.8" width="12" height="12" fill="none" stroke="#008000" stroke-width="3"/>
<rect x="865.01" y="132.67" width="12" height="12" fill="none" stroke="#008000" stroke-width="3"/>
<rect x="894.91" y="137.24" width="12" height="12" fill="none" stroke="#008000" stroke-width="3"/>
<rect x="954.73" y="140.9" width="12" height="12" fill="none" stroke="#008000" stroke-width="3"/>
<rect x="1074.35" y="121.4" width="12" height="12" fill="none" stroke="#008000" stroke-width="3"/>
<rect x="1313.6" y="373.92" width="12" height="12" fill="none" stroke="#008000" stroke-width="3"/>
<path d="M848.56 115.82V108.21M842.56 108.21H854.56M848.56 115.84V123.44M842.56 123.44H854.56" stroke="#ff0000" stroke-width="2.6" fill="none"/>
<path d="M856.05 137.45V127.71M850.05 127.71H862.05M856.05 137.47V147.2M850.05 147.2H862.05" stroke="#ff0000" stroke-width="2.6" fill="none"/>
<path d="M871.01 145.67V130.91M865.01 130.91H877.01M871.01 145.69V160.45M865.01 160.45H877.01" stroke="#ff0000" stroke-width="2.6" fill="none"/>
<path d="M900.91 163.64V152.38M894.91 152.38H906.91M900.91 163.66V174.92M894.91 174.92H906.91" stroke="#ff0000" stroke-width="2.6" fill="none"/>
<circle cx="841.1" cy="107.3" r="6.5" fill="#ff0000"/>
<circle cx="848.56" cy="115.83" r="6.5" fill="#ff0000"/>
<circle cx="856.05" cy="137.46" r="6.5" fill="#ff0000"/>
<circle cx="871.01" cy="145.68" r="6.5" fill="#ff0000"/>
<circle cx="900.91" cy="163.65" r="6.5" fill="#ff0000"/>
<circle cx="960.73" cy="411.29" r="6.5" fill="#ff0000"/>
<circle cx="1080.35" cy="411.29" r="6.5" fill="#ff0000"/>
<circle cx="1319.6" cy="411.29" r="6.5" fill="#ff0000"/>
<path d="M802.8 522.8H836.9" stroke="#ff0000" stroke-width="3.2"/>
<circle cx="819.9" cy="522.8" r="6.6" fill="#ff0000"/>
<path d="M992.8 524.7H1026.9" stroke="#008000" stroke-width="3.2"/>
<rect x="1003.35" y="518.25" width="12.9" height="12.9" fill="none" stroke="#008000" stroke-width="3"/>
<path d="M1188.8 524.7H1223" stroke="#129ab6" stroke-width="3.2"/>
<path d="M1199.3 518.2H1212.5L1205.9 531.2Z" fill="#129ab6"/>
<text x="855.25" y="532.6" font-size="26" font-weight="normal" textLength="126.97" lengthAdjust="spacingAndGlyphs" transform="matrix(1 0 0 1.05 0 -26.63)">Lynronne 1</text>
<text x="1044.91" y="534.5" font-size="26" font-weight="normal" textLength="129.85" lengthAdjust="spacingAndGlyphs" transform="matrix(1 0 0 1.05 0 -26.73)">Lynronne 2</text>
<text x="1241.49" y="534.3" font-size="26" font-weight="normal" textLength="60.22" lengthAdjust="spacingAndGlyphs" transform="matrix(1 0 0 1.05 0 -26.72)">P15s</text>
<path d="M142 734.9V1051.4" stroke="#000" stroke-width="3" fill="none"/>
<path d="M142 1051.4H614.8" stroke="#000" stroke-width="3" fill="none"/>
<path d="M133 1051.4H143.5M133 988.4H143.5M133 925.4H143.5M133 862.4H143.5M133 799.4H143.5M133 736.4H143.5M142 1049.9V1060.8M200.91 1049.9V1060.8M259.82 1049.9V1060.8M318.74 1049.9V1060.8M377.65 1049.9V1060.8M436.56 1049.9V1060.8M495.47 1049.9V1060.8M554.38 1049.9V1060.8M613.3 1049.9V1060.8" stroke="#000" stroke-width="3" fill="none"/>
<text x="130.5" y="1060.2" font-size="22" font-weight="bold" text-anchor="end">0</text>
<text x="130.5" y="997.2" font-size="22" font-weight="bold" text-anchor="end">20</text>
<text x="130.5" y="934.2" font-size="22" font-weight="bold" text-anchor="end">40</text>
<text x="130.5" y="871.2" font-size="22" font-weight="bold" text-anchor="end">60</text>
<text x="130.5" y="808.2" font-size="22" font-weight="bold" text-anchor="end">80</text>
<text x="130.5" y="745.2" font-size="22" font-weight="bold" text-anchor="end">100</text>
<text x="142" y="1088.7" font-size="22" font-weight="bold" text-anchor="middle">0</text>
<text x="200.91" y="1088.7" font-size="22" font-weight="bold" text-anchor="middle">20</text>
<text x="259.82" y="1088.7" font-size="22" font-weight="bold" text-anchor="middle">40</text>
<text x="318.74" y="1088.7" font-size="22" font-weight="bold" text-anchor="middle">60</text>
<text x="377.65" y="1088.7" font-size="22" font-weight="bold" text-anchor="middle">80</text>
<text x="436.56" y="1088.7" font-size="22" font-weight="bold" text-anchor="middle">100</text>
<text x="495.47" y="1088.7" font-size="22" font-weight="bold" text-anchor="middle">120</text>
<text x="554.38" y="1088.7" font-size="22" font-weight="bold" text-anchor="middle">140</text>
<text x="613.3" y="1088.7" font-size="22" font-weight="bold" text-anchor="middle">160</text>
<text x="318.17" y="1128.2" font-size="24" font-weight="bold" textLength="117.85" lengthAdjust="spacingAndGlyphs">Time (min)</text>
<text transform="translate(76.2 1054.59) rotate(-90)" x="0" y="0" font-size="24" font-weight="bold" textLength="316.72" lengthAdjust="spacingAndGlyphs">% of Permiabilisation 4xMIC</text>
<path d="M142 1051.4L142 1049.26L142 1046.39L142 1041.82L142 1035.37L142 1027.01L142 1016.9L142 1005.39L142 992.91L142 979.95L142 966.95L142 954.31L142.01 942.32L142.01 931.18L142.01 920.97L142.01 911.74L142.01 903.48L142.01 896.12L142.02 889.6L142.02 883.84L142.02 878.77L142.03 874.3L142.03 870.36L142.03 866.88L142.04 863.81L142.04 861.1L142.05 858.7L142.05 856.56L142.06 854.67L142.07 852.98L142.07 851.47L142.08 850.12L142.09 848.91L142.1 846.83L142.12 845.14L142.14 843.76L142.17 842.1L142.21 840.84L142.27 839.57L142.38 838.27L142.63 837.01L143.29 835.98L144.45 835.51L145.68 835.34L146.91 835.25L148.12 835.2L149.36 835.17L150.61 835.14L151.98 835.12L153.3 835.11L154.51 835.1L155.82 835.09L157.2 835.08L158.43 835.07L159.72 835.07L161.07 835.06L162.5 835.06L163.99 835.05L165.23 835.05L166.52 835.05L167.86 835.04L169.25 835.04L170.68 835.04L172.16 835.04L173.7 835.04L175.28 835.03L176.5 835.03L177.76 835.03L179.04 835.03L180.35 835.03L181.69 835.03L183.07 835.03L184.47 835.03L185.91 835.02L187.38 835.02L188.88 835.02L190.41 835.02L191.98 835.02L193.58 835.02L195.21 835.02L196.88 835.02L198.59 835.02L200.32 835.02L202.1 835.02L203.3 835.02L204.52 835.02L205.75 835.01L207 835.01L208.27 835.01L209.55 835.01L210.85 835.01L212.17 835.01L213.5 835.01L214.85 835.01L216.21 835.01L217.59 835.01L218.99 835.01L220.41 835.01L221.85 835.01L223.3 835.01L224.77 835.01L226.25 835.01L227.76 835.01L229.28 835.01L230.82 835.01L232.38 835.01L233.96 835.01L235.55 835.01L237.16 835.01L238.79 835.01L240.44 835.01L242.11 835.01L243.8 835.01L245.51 835.01L247.23 835.01L248.98 835.01L250.74 835.01L252.52 835.01L254.32 835.01L256.14 835.01L257.99 835.01L259.85 835.01L261.73 835.01L263.63 835.01L265.55 835.01L267.49 835.01L269.45 835.01L271.43 835L273.43 835L275.45 835L277.5 835L279.56 835L281.64 835L283.75 835L285.87 835L288.02 835L290.19 835L292.38 835L294.59 835L296.82 835L299.08 835L301.36 835L303.65 835L305.97 835L308.32 835L310.68 835L313.07 835L314.27 835L315.48 835L316.69 835L317.91 835L319.13 835L320.36 835L321.6 835L322.84 835L324.09 835L325.34 835L326.6 835L327.87 835L329.14 835L330.41 835L331.69 835L332.98 835L334.27 835L335.57 835L336.88 835L338.19 835L339.51 835L340.83 835L342.16 835L343.49 835L344.83 835L346.18 835L347.53 835L348.89 835L350.25 835L351.62 835L353 835L354.38 835L355.77 835L357.16 835L358.56 835L359.97 835L361.38 835L362.8 835L364.22 835L365.65 835L367.09 835L368.53 835L369.98 835L371.44 835L372.9 835L374.37 835L375.84 835L377.32 835L378.81 835L380.3 835L381.8 835L383.3 835L384.81 835L386.33 835L387.86 835L389.39 835L390.92 835L392.47 835L394.02 835L395.57 835L397.13 835L398.7 835L400.28 835L401.86 835L403.45 835L405.04 835L406.64 835L408.25 835L409.86 835L411.48 835L413.11 835L414.74 835L416.38 835L418.03 835L419.68 835L421.34 835L423.01 835L424.68 835L426.36 835L428.04 835L429.74 835L431.43 835L433.14 835L434.85 835L436.57 835L438.3 835L440.03 835L441.77 835L443.52 835L445.27 835L447.03 835L448.8 835L450.57 835L452.35 835L454.14 835L455.93 835L457.73 835L459.54 835L461.35 835L463.18 835L465 835L466.84 835L468.68 835L470.53 835L472.39 835L474.25 835L476.12 835L478 835L479.88 835L481.77 835L483.67 835L485.57 835L487.49 835L489.41 835L491.33 835L493.27 835L495.21 835L497.15 835L499.11 835L501.07 835L503.04 835L505.02 835L507 835L508.99 835L510.99 835L513 835L515.01 835L517.03 835L519.06 835L521.09 835L523.13 835L525.18 835L527.24 835L529.3 835L531.37 835L533.45 835L535.54 835L537.63 835L539.73 835L541.84 835L543.95 835L546.08 835L548.21 835L550.35 835L552.49 835L554.64 835L556.8 835L558.97 835L561.15 835L563.33 835L565.52 835L567.72 835L569.93 835L572.14 835L574.36 835L576.59 835L578.83 835L581.07 835L583.32 835L585.58 835L587.85 835L590.12 835L592.4 835L594.69 835L596.99 835L599.3 835L601.61 835L603.93 835L606.26 835L608.6 835L610.94 835L613.3 835" stroke="#ff0000" stroke-width="3.3" fill="none" stroke-linejoin="round" stroke-linecap="butt"/>
<path d="M142 1051.4L142.37 1050.1L142.75 1048.67L143.09 1047.36L143.37 1046.17L143.7 1044.78L144.05 1043.21L144.44 1041.47L144.72 1040.18L145.02 1038.75L145.33 1037.14L145.65 1035.31L145.99 1033.2L146.16 1032.01L146.34 1030.62L146.53 1029.01L146.71 1027.23L146.9 1025.29L147.1 1023.23L147.3 1021.08L147.5 1018.89L147.7 1016.71L147.91 1014.58L148.12 1012.56L148.34 1010.67L148.56 1008.75L148.79 1006.83L149.01 1004.9L149.25 1002.97L149.48 1001.06L149.72 999.17L149.96 997.32L150.21 995.51L150.46 993.77L150.72 992.11L150.98 990.54L151.24 989.04L151.5 987.6L151.77 986.21L152.05 984.85L152.32 983.52L152.6 982.19L152.89 980.85L153.18 979.48L153.47 978.08L153.77 976.69L154.07 975.3L154.37 973.91L154.68 972.52L154.99 971.14L155.3 969.76L155.62 968.38L155.94 967L156.27 965.62L156.6 964.25L156.93 962.89L157.27 961.52L157.61 960.16L157.96 958.81L158.3 957.46L158.66 956.12L159.01 954.77L159.37 953.44L159.74 952.11L160.11 950.79L160.48 949.47L160.85 948.16L161.23 946.85L161.61 945.55L162 944.26L162.39 942.97L162.78 941.69L163.18 940.41L163.58 939.15L163.99 937.89L164.4 936.64L164.81 935.39L165.23 934.15L165.65 932.92L166.07 931.7L166.5 930.48L166.93 929.27L167.37 928.07L167.81 926.88L168.25 925.69L168.7 924.52L169.15 923.35L169.6 922.19L170.06 921.03L170.52 919.89L170.99 918.75L171.46 917.62L171.93 916.5L172.41 915.38L172.89 914.28L173.37 913.18L174.35 911.01L175.35 908.87L176.36 906.77L177.38 904.7L178.42 902.66L179.48 900.65L180.55 898.67L181.64 896.73L182.74 894.82L183.85 892.94L184.98 891.09L186.13 889.27L187.29 887.48L188.47 885.72L189.66 884L190.87 882.3L192.09 880.63L193.32 878.99L194.58 877.38L195.84 875.8L197.12 874.24L198.42 872.71L199.73 871.21L201.06 869.73L202.4 868.28L203.76 866.86L205.13 865.46L206.52 864.09L207.92 862.74L209.34 861.42L210.77 860.11L212.22 858.84L213.68 857.58L215.16 856.35L216.66 855.13L218.16 853.94L219.69 852.77L221.22 851.63L222.78 850.5L224.35 849.39L225.93 848.3L227.53 847.23L229.14 846.18L230.77 845.15L232.42 844.14L234.07 843.14L235.75 842.16L237.44 841.2L239.14 840.26L240.86 839.33L242.6 838.42L244.34 837.52L246.11 836.64L247.89 835.78L249.68 834.92L251.49 834.09L253.32 833.27L255.16 832.46L257.01 831.66L258.88 830.88L260.77 830.12L262.67 829.36L264.58 828.62L266.51 827.89L268.46 827.18L270.42 826.47L272.4 825.78L274.39 825.1L276.39 824.43L278.41 823.77L280.45 823.12L282.5 822.48L284.57 821.85L286.65 821.23L288.74 820.63L290.86 820.03L292.98 819.44L295.12 818.86L297.28 818.29L299.45 817.73L301.64 817.18L303.84 816.64L306.06 816.11L308.29 815.58L310.54 815.06L312.8 814.55L315.08 814.05L317.37 813.56L319.68 813.07L322 812.59L324.34 812.12L326.69 811.66L327.87 811.43L329.06 811.2L330.25 810.98L331.44 810.75L332.64 810.53L333.84 810.31L335.04 810.09L336.25 809.87L337.46 809.66L338.68 809.44L339.9 809.23L341.12 809.02L342.35 808.81L343.58 808.6L344.82 808.39L346.05 808.19L347.3 807.99L348.54 807.78L349.79 807.58L351.05 807.39L352.3 807.19L353.56 806.99L354.83 806.8L356.1 806.6L357.37 806.41L358.65 806.22L359.93 806.03L361.21 805.85L362.5 805.66L363.79 805.48L365.09 805.29L366.38 805.11L367.69 804.93L368.99 804.75L370.3 804.57L371.62 804.39L372.94 804.22L374.26 804.04L375.58 803.87L376.91 803.7L378.24 803.53L379.58 803.36L380.92 803.19L382.26 803.02L383.61 802.86L384.96 802.69L386.32 802.53L387.68 802.37L389.04 802.21L390.41 802.05L391.78 801.89L393.15 801.73L394.53 801.57L395.91 801.42L397.3 801.26L398.69 801.11L400.08 800.95L401.48 800.8L402.88 800.65L404.28 800.5L405.69 800.35L407.1 800.21L408.52 800.06L409.94 799.92L411.36 799.77L412.79 799.63L414.22 799.48L415.66 799.34L417.09 799.2L418.54 799.06L419.98 798.92L421.43 798.79L422.88 798.65L424.34 798.51L425.8 798.38L427.27 798.24L428.74 798.11L430.21 797.98L431.68 797.85L433.16 797.72L434.65 797.59L436.14 797.46L437.63 797.33L439.12 797.2L440.62 797.08L442.12 796.95L443.63 796.83L445.14 796.7L446.65 796.58L448.17 796.46L449.69 796.33L451.22 796.21L452.75 796.09L454.28 795.97L455.82 795.86L457.36 795.74L458.9 795.62L460.45 795.5L462 795.39L463.55 795.27L465.11 795.16L466.68 795.05L468.24 794.93L469.81 794.82L471.39 794.71L472.96 794.6L474.55 794.49L476.13 794.38L477.72 794.27L479.31 794.17L480.91 794.06L482.51 793.95L484.12 793.85L485.72 793.74L487.34 793.64L488.95 793.53L490.57 793.43L492.19 793.33L493.82 793.23L495.45 793.12L497.09 793.02L498.72 792.92L500.37 792.82L502.01 792.73L503.66 792.63L505.31 792.53L506.97 792.43L508.63 792.34L510.3 792.24L511.97 792.15L513.64 792.05L515.31 791.96L516.99 791.86L518.68 791.77L520.36 791.68L522.05 791.59L523.75 791.49L525.45 791.4L527.15 791.31L528.86 791.22L530.57 791.13L532.28 791.05L534 790.96L535.72 790.87L537.44 790.78L539.17 790.7L540.9 790.61L542.64 790.53L544.38 790.44L546.13 790.36L547.87 790.27L549.62 790.19L551.38 790.1L553.14 790.02L554.9 789.94L556.67 789.86L558.44 789.78L560.21 789.7L561.99 789.62L563.77 789.54L565.56 789.46L567.34 789.38L569.14 789.3L570.93 789.22L572.73 789.14L574.54 789.07L576.35 788.99L578.16 788.91L579.97 788.84L581.79 788.76L583.62 788.69L585.44 788.61L587.27 788.54L589.11 788.47L590.95 788.39L592.79 788.32L594.63 788.25L596.48 788.17L598.34 788.1L600.19 788.03L602.05 787.96L603.92 787.89L605.79 787.82L607.66 787.75L609.53 787.68L611.41 787.61L613.3 787.54" stroke="#55a0ff" stroke-width="3.3" fill="none" stroke-linejoin="round" stroke-linecap="butt"/>
<path d="M142 1051.4L142.32 1050.02L142.54 1048.68L142.75 1047.24L142.91 1046.04L143.09 1044.64L143.27 1042.9L143.48 1040.71L143.59 1039.43L143.7 1038.04L143.81 1036.51L143.93 1034.86L144.05 1033.08L144.18 1031.1L144.31 1028.76L144.44 1026.1L144.58 1023.18L144.72 1020.07L144.87 1016.85L145.02 1013.62L145.17 1010.46L145.33 1007.22L145.49 1003.89L145.65 1000.49L145.82 997.05L145.99 993.61L146.16 990.2L146.34 986.73L146.53 983.23L146.71 979.74L146.9 976.3L147.1 972.97L147.3 969.78L147.5 966.66L147.7 963.58L147.91 960.57L148.12 957.63L148.34 954.79L148.56 952.06L148.79 949.46L149.01 946.95L149.25 944.52L149.48 942.16L149.72 939.85L149.96 937.59L150.21 935.35L150.46 933.13L150.72 930.91L150.98 928.67L151.24 926.44L151.5 924.22L151.77 922.04L152.05 919.91L152.32 917.85L152.6 915.87L152.89 914.08L153.18 912.31L153.47 910.57L153.77 908.85L154.07 907.16L154.37 905.49L154.68 903.85L154.99 902.23L155.3 900.62L155.62 899.05L155.94 897.5L156.27 895.97L156.6 894.46L156.93 892.97L157.27 891.52L157.61 890.08L157.96 888.66L158.3 887.26L158.66 885.88L159.01 884.53L159.37 883.2L159.74 881.89L160.11 880.59L160.48 879.32L160.85 878.07L161.23 876.83L161.61 875.62L162 874.42L162.39 873.24L162.78 872.09L163.18 870.95L163.99 868.72L164.81 866.56L165.65 864.47L166.5 862.45L167.37 860.48L168.25 858.58L169.15 856.74L170.06 854.95L170.99 853.22L171.93 851.54L172.89 849.91L173.86 848.34L174.85 846.81L175.85 845.32L176.87 843.88L177.9 842.49L178.95 841.14L180.01 839.82L181.09 838.55L182.18 837.31L183.29 836.11L184.42 834.94L185.56 833.81L186.71 832.71L187.88 831.64L189.06 830.61L190.26 829.6L191.47 828.62L192.7 827.67L193.95 826.74L195.21 825.84L196.48 824.96L197.77 824.11L199.08 823.28L200.4 822.48L201.73 821.69L203.08 820.93L204.44 820.19L205.82 819.46L207.22 818.76L208.63 818.07L210.06 817.4L211.5 816.75L212.95 816.11L214.42 815.49L215.91 814.89L217.41 814.3L218.92 813.73L220.45 813.17L222 812.62L223.56 812.09L225.14 811.57L226.73 811.06L228.33 810.56L229.96 810.08L231.59 809.61L233.24 809.14L234.91 808.69L236.59 808.25L238.29 807.82L240 807.4L241.73 806.99L243.47 806.59L245.23 806.2L247 805.81L248.78 805.44L250.59 805.07L252.4 804.71L254.24 804.36L256.08 804.02L257.95 803.68L259.82 803.35L261.72 803.03L263.62 802.71L265.55 802.4L267.49 802.1L269.44 801.8L271.41 801.51L273.39 801.23L275.39 800.95L277.4 800.68L279.43 800.41L281.47 800.15L283.53 799.89L285.61 799.64L287.69 799.39L289.8 799.15L291.92 798.91L294.05 798.68L296.2 798.45L298.36 798.23L300.54 798.01L302.74 797.79L304.95 797.58L307.17 797.37L309.41 797.17L311.67 796.97L313.94 796.77L316.22 796.58L318.52 796.39L320.84 796.2L323.17 796.02L325.51 795.84L327.87 795.66L330.25 795.49L332.64 795.32L333.84 795.23L335.04 795.15L336.25 795.07L337.46 794.99L338.68 794.91L339.9 794.83L341.12 794.75L342.35 794.67L343.58 794.59L344.82 794.51L346.05 794.43L347.3 794.36L348.54 794.28L349.79 794.21L351.05 794.13L352.3 794.06L353.56 793.98L354.83 793.91L356.1 793.84L357.37 793.77L358.65 793.7L359.93 793.63L361.21 793.56L362.5 793.49L363.79 793.42L365.09 793.35L366.38 793.29L367.69 793.22L368.99 793.15L370.3 793.09L371.62 793.02L372.94 792.96L374.26 792.89L375.58 792.83L376.91 792.77L378.24 792.7L379.58 792.64L380.92 792.58L382.26 792.52L383.61 792.46L384.96 792.4L386.32 792.34L387.68 792.28L389.04 792.22L390.41 792.16L391.78 792.1L393.15 792.05L394.53 791.99L395.91 791.93L397.3 791.88L398.69 791.82L400.08 791.76L401.48 791.71L402.88 791.66L404.28 791.6L405.69 791.55L407.1 791.49L408.52 791.44L409.94 791.39L411.36 791.34L412.79 791.29L414.22 791.23L415.66 791.18L417.09 791.13L418.54 791.08L419.98 791.03L421.43 790.98L422.88 790.93L424.34 790.89L425.8 790.84L427.27 790.79L428.74 790.74L430.21 790.7L431.68 790.65L433.16 790.6L434.65 790.56L436.14 790.51L437.63 790.46L439.12 790.42L440.62 790.37L442.12 790.33L443.63 790.29L445.14 790.24L446.65 790.2L448.17 790.15L449.69 790.11L451.22 790.07L452.75 790.03L454.28 789.98L455.82 789.94L457.36 789.9L458.9 789.86L460.45 789.82L462 789.78L463.55 789.74L465.11 789.7L466.68 789.66L468.24 789.62L469.81 789.58L471.39 789.54L472.96 789.5L474.55 789.46L476.13 789.42L477.72 789.39L479.31 789.35L480.91 789.31L482.51 789.27L484.12 789.24L485.72 789.2L487.34 789.16L488.95 789.13L490.57 789.09L492.19 789.06L493.82 789.02L495.45 788.99L497.09 788.95L498.72 788.92L500.37 788.88L502.01 788.85L503.66 788.81L505.31 788.78L506.97 788.75L508.63 788.71L510.3 788.68L511.97 788.65L513.64 788.61L515.31 788.58L516.99 788.55L518.68 788.52L520.36 788.49L522.05 788.45L523.75 788.42L525.45 788.39L527.15 788.36L528.86 788.33L530.57 788.3L532.28 788.27L534 788.24L535.72 788.21L537.44 788.18L539.17 788.15L540.9 788.12L542.64 788.09L544.38 788.06L546.13 788.03L547.87 788L549.62 787.97L551.38 787.94L553.14 787.92L554.9 787.89L556.67 787.86L558.44 787.83L560.21 787.8L561.99 787.78L563.77 787.75L565.56 787.72L567.34 787.7L569.14 787.67L570.93 787.64L572.73 787.62L574.54 787.59L576.35 787.56L578.16 787.54L579.97 787.51L581.79 787.49L583.62 787.46L585.44 787.44L587.27 787.41L589.11 787.38L590.95 787.36L592.79 787.34L594.63 787.31L596.48 787.29L598.34 787.26L600.19 787.24L602.05 787.21L603.92 787.19L605.79 787.17L607.66 787.14L609.53 787.12L611.41 787.1L613.3 787.07" stroke="#008000" stroke-width="3.3" fill="none" stroke-linejoin="round" stroke-linecap="butt"/>
<path d="M171.46 930.45V936.11M165.46 936.11H177.46" stroke="#55a0ff" stroke-width="2.6" fill="none"/>
<path d="M259.82 796.87V789.64M253.82 789.64H265.82" stroke="#55a0ff" stroke-width="2.6" fill="none"/>
<path d="M133.75 1043.4H150.25L142 1059.4Z" fill="#55a0ff"/>
<path d="M136.7 1040.25H153.2L144.95 1056.25Z" fill="#55a0ff"/>
<path d="M148.48 993.32H164.98L156.73 1009.32Z" fill="#55a0ff"/>
<path d="M163.21 922.44H179.71L171.46 938.44Z" fill="#55a0ff"/>
<path d="M192.66 841.17H209.16L200.91 857.17Z" fill="#55a0ff"/>
<path d="M251.57 788.88H268.07L259.82 804.88Z" fill="#55a0ff"/>
<path d="M369.4 793.92H385.9L377.65 809.92Z" fill="#55a0ff"/>
<path d="M605.05 809.36H621.55L613.3 825.36Z" fill="#55a0ff"/>
<path d="M156.73 878.31V873.43M150.73 873.43H162.73M156.73 893.11V898M150.73 898H162.73" stroke="#008000" stroke-width="2.6" fill="none"/>
<rect x="135.6" y="1045" width="12.8" height="12.8" fill="none" stroke="#008000" stroke-width="3"/>
<rect x="138.55" y="1032.71" width="12.8" height="12.8" fill="none" stroke="#008000" stroke-width="3"/>
<rect x="150.33" y="879.31" width="12.8" height="12.8" fill="none" stroke="#008000" stroke-width="3"/>
<rect x="165.06" y="820.09" width="12.8" height="12.8" fill="none" stroke="#008000" stroke-width="3"/>
<rect x="194.51" y="821.67" width="12.8" height="12.8" fill="none" stroke="#008000" stroke-width="3"/>
<rect x="253.42" y="792.37" width="12.8" height="12.8" fill="none" stroke="#008000" stroke-width="3"/>
<rect x="371.25" y="789.54" width="12.8" height="12.8" fill="none" stroke="#008000" stroke-width="3"/>
<rect x="606.9" y="796.15" width="12.8" height="12.8" fill="none" stroke="#008000" stroke-width="3"/>
<circle cx="142" cy="1051.4" r="6.7" fill="#ff0000"/>
<circle cx="144.95" cy="831.85" r="6.7" fill="#ff0000"/>
<circle cx="156.73" cy="825.86" r="6.7" fill="#ff0000"/>
<circle cx="171.46" cy="817.67" r="6.7" fill="#ff0000"/>
<circle cx="200.91" cy="845.08" r="6.7" fill="#ff0000"/>
<circle cx="259.82" cy="839.72" r="6.7" fill="#ff0000"/>
<circle cx="377.65" cy="839.41" r="6.7" fill="#ff0000"/>
<circle cx="613.3" cy="840.35" r="6.7" fill="#ff0000"/>
<path d="M124.7 1157.1H158.4" stroke="#ff0000" stroke-width="3.2"/>
<circle cx="141.7" cy="1157.1" r="6.6" fill="#ff0000"/>
<path d="M318.6 1156.7H351.7" stroke="#008000" stroke-width="3.2"/>
<rect x="328.85" y="1150.25" width="12.9" height="12.9" fill="none" stroke="#008000" stroke-width="3"/>
<path d="M515.9 1157H549" stroke="#55a0ff" stroke-width="3.2"/>
<path d="M524.15 1149H540.65L532.4 1165Z" fill="#55a0ff"/>
<text x="177.45" y="1166" font-size="24" font-weight="bold" textLength="119.77" lengthAdjust="spacingAndGlyphs">Lynronne 1</text>
<text x="370.33" y="1166" font-size="24" font-weight="bold" textLength="120.83" lengthAdjust="spacingAndGlyphs">Lynronne 2</text>
<text x="567.17" y="1166" font-size="24" font-weight="bold" textLength="51.42" lengthAdjust="spacingAndGlyphs">P15s</text>
<path d="M852.6 736.4V1052.6" stroke="#000" stroke-width="3" fill="none"/>
<path d="M852.6 1052.6H1325.62" stroke="#000" stroke-width="3" fill="none"/>
<path d="M843.3 1052.6H854.1M843.3 989.66H854.1M843.3 926.72H854.1M843.3 863.78H854.1M843.3 800.84H854.1M843.3 737.9H854.1M852.6 1051.1V1062M911.54 1051.1V1062M970.48 1051.1V1062M1029.42 1051.1V1062M1088.36 1051.1V1062M1147.3 1051.1V1062M1206.24 1051.1V1062M1265.18 1051.1V1062M1324.12 1051.1V1062" stroke="#000" stroke-width="3" fill="none"/>
<text x="841.5" y="1061.4" font-size="22" font-weight="bold" text-anchor="end">0</text>
<text x="841.5" y="998.46" font-size="22" font-weight="bold" text-anchor="end">20</text>
<text x="841.5" y="935.52" font-size="22" font-weight="bold" text-anchor="end">40</text>
<text x="841.5" y="872.58" font-size="22" font-weight="bold" text-anchor="end">60</text>
<text x="841.5" y="809.64" font-size="22" font-weight="bold" text-anchor="end">80</text>
<text x="841.5" y="746.7" font-size="22" font-weight="bold" text-anchor="end">100</text>
<text x="852.6" y="1089.7" font-size="22" font-weight="bold" text-anchor="middle">0</text>
<text x="911.54" y="1089.7" font-size="22" font-weight="bold" text-anchor="middle">20</text>
<text x="970.48" y="1089.7" font-size="22" font-weight="bold" text-anchor="middle">40</text>
<text x="1029.42" y="1089.7" font-size="22" font-weight="bold" text-anchor="middle">60</text>
<text x="1088.36" y="1089.7" font-size="22" font-weight="bold" text-anchor="middle">80</text>
<text x="1147.3" y="1089.7" font-size="22" font-weight="bold" text-anchor="middle">100</text>
<text x="1206.24" y="1089.7" font-size="22" font-weight="bold" text-anchor="middle">120</text>
<text x="1265.18" y="1089.7" font-size="22" font-weight="bold" text-anchor="middle">140</text>
<text x="1324.12" y="1089.7" font-size="22" font-weight="bold" text-anchor="middle">160</text>
<text x="1028.76" y="1129.4" font-size="24" font-weight="bold" textLength="118.46" lengthAdjust="spacingAndGlyphs">Time (min)</text>
<text transform="translate(786.9 1054.59) rotate(-90)" x="0" y="0" font-size="24" font-weight="bold" textLength="315.32" lengthAdjust="spacingAndGlyphs">% of Permiabilisation 4xMIC</text>
<path d="M852.6 1052.6L852.6 1051.37L852.6 1049.91L852.61 1048.5L852.61 1046.67L852.61 1044.41L852.62 1043.11L852.62 1041.68L852.62 1040.13L852.63 1038.46L852.63 1036.67L852.63 1034.76L852.64 1032.73L852.64 1030.57L852.65 1028.3L852.65 1025.92L852.66 1023.43L852.67 1020.83L852.67 1018.13L852.68 1015.34L852.69 1012.46L852.69 1009.5L852.7 1006.47L852.71 1003.37L852.72 1000.2L852.73 996.99L852.74 993.73L852.75 990.43L852.76 987.1L852.77 983.75L852.79 980.38L852.8 977.01L852.81 973.64L852.83 970.26L852.84 966.91L852.86 963.56L852.87 960.24L852.89 956.95L852.91 953.69L852.92 950.47L852.94 947.29L852.96 944.15L852.98 941.06L853 938.02L853.03 935.03L853.05 932.1L853.07 929.23L853.1 926.41L853.12 923.66L853.15 920.96L853.17 918.33L853.2 915.75L853.23 913.24L853.26 910.79L853.29 908.41L853.32 906.08L853.35 903.82L853.38 901.61L853.41 899.47L853.45 897.39L853.48 895.36L853.52 893.39L853.56 891.48L853.6 889.62L853.64 887.82L853.68 886.06L853.72 884.36L853.76 882.72L853.8 881.12L853.85 879.56L853.89 878.06L853.94 876.6L853.99 875.18L854.04 873.81L854.09 872.48L854.14 871.19L854.19 869.94L854.25 868.72L854.36 866.41L854.47 864.23L854.59 862.18L854.72 860.26L854.85 858.45L854.99 856.74L855.13 855.14L855.27 853.63L855.43 852.21L855.59 850.87L855.75 849.61L855.92 848.42L856.19 846.76L856.47 845.24L856.76 843.84L857.07 842.56L857.4 841.37L857.85 839.94L858.34 838.65L858.85 837.49L859.53 836.19L860.27 835.05L861.05 834.04L861.88 833.14L862.95 832.19L864.1 831.36L865.33 830.63L866.42 830.09L867.57 829.61L868.79 829.17L870.06 828.77L871.41 828.41L872.82 828.08L873.99 827.83L875.22 827.61L876.48 827.4L877.8 827.2L879.16 827.02L880.57 826.85L882.03 826.69L883.54 826.54L885.1 826.4L886.3 826.3L887.53 826.21L888.8 826.12L890.09 826.03L891.41 825.95L892.77 825.87L894.15 825.8L895.57 825.72L897.02 825.66L898.5 825.59L900.01 825.53L901.55 825.47L903.13 825.41L904.75 825.35L906.39 825.3L908.07 825.25L909.79 825.2L911.54 825.15L913.33 825.11L914.54 825.08L915.76 825.05L917.01 825.02L918.26 824.99L919.54 824.97L920.83 824.94L922.14 824.91L923.46 824.89L924.8 824.87L926.16 824.84L927.54 824.82L928.93 824.8L930.34 824.78L931.76 824.75L933.21 824.73L934.67 824.71L936.15 824.69L937.64 824.67L939.16 824.66L940.69 824.64L942.24 824.62L943.81 824.6L945.39 824.58L947 824.57L948.62 824.55L950.26 824.54L951.92 824.52L953.6 824.5L955.3 824.49L957.02 824.47L958.75 824.46L960.51 824.45L962.28 824.43L964.07 824.42L965.89 824.41L967.72 824.39L969.57 824.38L971.44 824.37L973.33 824.36L975.24 824.34L977.17 824.33L979.13 824.32L981.1 824.31L983.09 824.3L985.1 824.29L987.14 824.28L989.19 824.27L991.26 824.26L993.36 824.25L995.48 824.24L997.61 824.23L999.77 824.22L1001.95 824.21L1004.16 824.2L1006.38 824.19L1008.62 824.18L1010.89 824.18L1013.18 824.17L1015.49 824.16L1017.82 824.15L1020.18 824.14L1022.55 824.14L1024.95 824.13L1026.16 824.12L1027.37 824.12L1028.59 824.12L1029.82 824.11L1031.05 824.11L1032.29 824.11L1033.53 824.1L1034.78 824.1L1036.03 824.1L1037.29 824.09L1038.55 824.09L1039.82 824.09L1041.1 824.08L1042.38 824.08L1043.67 824.08L1044.97 824.07L1046.26 824.07L1047.57 824.07L1048.88 824.06L1050.2 824.06L1051.52 824.06L1052.85 824.05L1054.19 824.05L1055.53 824.05L1056.87 824.04L1058.23 824.04L1059.59 824.04L1060.95 824.04L1062.32 824.03L1063.7 824.03L1065.08 824.03L1066.47 824.02L1067.86 824.02L1069.27 824.02L1070.67 824.02L1072.09 824.01L1073.5 824.01L1074.93 824.01L1076.36 824.01L1077.8 824L1079.24 824L1080.69 824L1082.15 823.99L1083.61 823.99L1085.08 823.99L1086.55 823.99L1088.03 823.98L1089.52 823.98L1091.01 823.98L1092.51 823.98L1094.02 823.98L1095.53 823.97L1097.05 823.97L1098.57 823.97L1100.1 823.97L1101.64 823.96L1103.19 823.96L1104.74 823.96L1106.29 823.96L1107.85 823.95L1109.42 823.95L1111 823.95L1112.58 823.95L1114.17 823.95L1115.76 823.94L1117.37 823.94L1118.97 823.94L1120.59 823.94L1122.21 823.94L1123.84 823.93L1125.47 823.93L1127.11 823.93L1128.76 823.93L1130.41 823.93L1132.07 823.92L1133.74 823.92L1135.41 823.92L1137.09 823.92L1138.78 823.92L1140.47 823.91L1142.17 823.91L1143.88 823.91L1145.59 823.91L1147.31 823.91L1149.04 823.9L1150.77 823.9L1152.51 823.9L1154.26 823.9L1156.01 823.9L1157.77 823.9L1159.54 823.89L1161.32 823.89L1163.1 823.89L1164.89 823.89L1166.68 823.89L1168.48 823.89L1170.29 823.88L1172.11 823.88L1173.93 823.88L1175.76 823.88L1177.59 823.88L1179.44 823.88L1181.29 823.87L1183.14 823.87L1185.01 823.87L1186.88 823.87L1188.76 823.87L1190.64 823.87L1192.53 823.86L1194.43 823.86L1196.34 823.86L1198.25 823.86L1200.17 823.86L1202.1 823.86L1204.03 823.86L1205.98 823.85L1207.92 823.85L1209.88 823.85L1211.84 823.85L1213.81 823.85L1215.79 823.85L1217.78 823.85L1219.77 823.84L1221.77 823.84L1223.77 823.84L1225.79 823.84L1227.81 823.84L1229.83 823.84L1231.87 823.84L1233.91 823.84L1235.96 823.83L1238.02 823.83L1240.09 823.83L1242.16 823.83L1244.24 823.83L1246.32 823.83L1248.42 823.83L1250.52 823.82L1252.63 823.82L1254.75 823.82L1256.87 823.82L1259 823.82L1261.14 823.82L1263.29 823.82L1265.44 823.82L1267.6 823.82L1269.77 823.81L1271.95 823.81L1274.13 823.81L1276.32 823.81L1278.52 823.81L1280.73 823.81L1282.94 823.81L1285.17 823.81L1287.4 823.81L1289.63 823.8L1291.88 823.8L1294.13 823.8L1296.39 823.8L1298.66 823.8L1300.93 823.8L1303.22 823.8L1305.51 823.8L1307.81 823.8L1310.12 823.79L1312.43 823.79L1314.75 823.79L1317.08 823.79L1319.42 823.79L1321.77 823.79L1324.12 823.79" stroke="#ff0000" stroke-width="3.3" fill="none" stroke-linejoin="round" stroke-linecap="butt"/>
<path d="M852.6 1052.6L852.75 1051.16L852.92 1049.59L853.08 1048.02L853.21 1046.78L853.35 1045.39L853.51 1043.85L853.69 1042.14L853.87 1040.27L854.08 1038.23L854.3 1036.01L854.53 1033.61L854.65 1032.33L854.78 1030.99L854.91 1029.59L855.04 1028.15L855.18 1026.65L855.32 1025.11L855.47 1023.53L855.62 1021.91L855.77 1020.25L855.93 1018.56L856.09 1016.85L856.25 1015.13L856.42 1013.4L856.59 1011.64L856.77 1009.83L856.95 1007.99L857.13 1006.12L857.32 1004.21L857.51 1002.26L857.7 1000.3L857.9 998.31L858.1 996.3L858.31 994.28L858.51 992.26L858.73 990.23L858.94 988.21L859.17 986.21L859.39 984.22L859.62 982.26L859.85 980.31L860.09 978.37L860.33 976.43L860.57 974.5L860.82 972.57L861.07 970.66L861.32 968.75L861.58 966.85L861.84 964.96L862.11 963.08L862.38 961.21L862.65 959.35L862.93 957.51L863.21 955.67L863.49 953.84L863.78 952.01L864.07 950.2L864.37 948.4L864.67 946.6L864.97 944.81L865.28 943.02L865.59 941.25L865.91 939.47L866.23 937.7L866.55 935.93L866.88 934.16L867.21 932.39L867.54 930.62L867.88 928.86L868.22 927.1L868.56 925.35L868.91 923.61L869.27 921.87L869.62 920.15L869.98 918.44L870.35 916.74L870.71 915.05L871.09 913.39L871.46 911.72L871.84 910.03L872.22 908.34L872.61 906.65L873 904.97L873.39 903.3L873.79 901.65L874.19 900.02L874.6 898.43L875.01 896.89L875.42 895.39L875.84 893.95L876.26 892.58L876.68 891.27L877.11 890L877.54 888.75L877.98 887.52L878.42 886.32L878.86 885.14L879.31 883.98L879.76 882.83L880.21 881.71L881.13 879.51L882.07 877.37L883.02 875.26L883.99 873.17L884.97 871.09L885.96 868.98L886.97 866.84L887.48 865.75L888 864.66L888.52 863.57L889.04 862.47L889.57 861.37L890.1 860.28L890.63 859.2L891.17 858.13L892.25 856.02L893.36 853.99L894.47 852.07L895.6 850.28L896.75 848.61L897.91 847L899.09 845.46L900.28 843.97L901.49 842.53L902.71 841.14L903.95 839.77L905.2 838.43L906.47 837.1L907.75 835.81L909.05 834.55L910.36 833.33L911.69 832.13L913.03 830.94L914.39 829.76L915.76 828.58L917.15 827.39L918.55 826.18L919.97 824.98L921.41 823.78L922.85 822.6L924.32 821.43L925.8 820.3L927.29 819.2L928.8 818.12L930.32 817.07L931.86 816.04L933.42 815.03L934.99 814.01L936.57 813L938.17 811.98L939.78 810.96L941.41 809.94L943.06 808.93L944.72 807.93L946.39 806.96L948.08 806.01L949.79 805.07L951.51 804.14L953.24 803.23L954.99 802.35L956.76 801.5L958.54 800.69L960.33 799.89L962.15 799.1L963.97 798.33L965.81 797.58L967.67 796.84L969.54 796.12L971.42 795.43L973.33 794.76L975.24 794.12L977.17 793.49L979.12 792.87L981.08 792.25L983.06 791.64L985.05 791.04L987.06 790.44L989.08 789.85L991.12 789.28L993.17 788.72L995.23 788.16L997.32 787.63L999.41 787.1L1001.53 786.6L1003.65 786.11L1005.8 785.64L1007.95 785.19L1010.13 784.76L1012.32 784.34L1014.52 783.93L1016.74 783.52L1018.97 783.12L1021.22 782.72L1023.48 782.33L1025.76 781.94L1028.05 781.56L1030.36 781.18L1032.68 780.8L1035.02 780.43L1037.38 780.07L1039.75 779.71L1040.94 779.53L1042.13 779.36L1043.33 779.18L1044.53 779.01L1045.73 778.83L1046.94 778.66L1048.16 778.49L1049.37 778.32L1050.59 778.16L1051.82 777.99L1053.05 777.82L1054.28 777.66L1055.51 777.5L1056.75 777.34L1057.99 777.18L1059.24 777.02L1060.49 776.86L1061.75 776.71L1063 776.55L1064.27 776.4L1065.53 776.24L1066.8 776.09L1068.07 775.94L1069.35 775.8L1070.63 775.65L1071.92 775.5L1073.2 775.36L1074.5 775.21L1075.79 775.07L1077.09 774.93L1078.39 774.79L1079.7 774.65L1081.01 774.52L1082.33 774.38L1083.64 774.24L1084.97 774.11L1086.29 773.98L1087.62 773.85L1088.96 773.72L1090.29 773.59L1091.63 773.46L1092.98 773.33L1094.33 773.2L1095.68 773.08L1097.04 772.95L1098.4 772.82L1099.76 772.7L1101.13 772.57L1102.5 772.45L1103.87 772.32L1105.25 772.2L1106.63 772.07L1108.02 771.95L1109.41 771.83L1110.8 771.71L1112.2 771.59L1113.6 771.46L1115.01 771.34L1116.42 771.22L1117.83 771.11L1119.25 770.99L1120.67 770.87L1122.09 770.75L1123.52 770.64L1124.95 770.52L1126.39 770.4L1127.82 770.29L1129.27 770.17L1130.71 770.06L1132.16 769.95L1133.62 769.83L1135.08 769.72L1136.54 769.61L1138 769.5L1139.47 769.39L1140.95 769.28L1142.42 769.17L1143.9 769.06L1145.39 768.96L1146.88 768.85L1148.37 768.74L1149.86 768.64L1151.36 768.53L1152.87 768.43L1154.37 768.32L1155.88 768.22L1157.4 768.12L1158.92 768.01L1160.44 767.91L1161.96 767.81L1163.49 767.71L1165.03 767.61L1166.56 767.52L1168.11 767.42L1169.65 767.32L1171.2 767.22L1172.75 767.13L1174.31 767.03L1175.87 766.94L1177.43 766.84L1179 766.75L1180.57 766.66L1182.14 766.57L1183.72 766.48L1185.3 766.39L1186.89 766.3L1188.48 766.21L1190.07 766.12L1191.67 766.03L1193.27 765.95L1194.88 765.86L1196.49 765.78L1198.1 765.69L1199.72 765.61L1201.34 765.52L1202.96 765.44L1204.59 765.36L1206.22 765.28L1207.85 765.2L1209.49 765.12L1211.14 765.04L1212.78 764.96L1214.43 764.88L1216.09 764.8L1217.75 764.72L1219.41 764.64L1221.07 764.56L1222.74 764.48L1224.41 764.4L1226.09 764.33L1227.77 764.25L1229.46 764.17L1231.14 764.09L1232.84 764.02L1234.53 763.94L1236.23 763.86L1237.93 763.79L1239.64 763.71L1241.35 763.63L1243.07 763.56L1244.78 763.48L1246.51 763.41L1248.23 763.34L1249.96 763.26L1251.69 763.19L1253.43 763.12L1255.17 763.05L1256.92 762.97L1258.67 762.9L1260.42 762.83L1262.17 762.76L1263.93 762.69L1265.7 762.63L1267.46 762.56L1269.24 762.49L1271.01 762.42L1272.79 762.36L1274.57 762.29L1276.36 762.23L1278.15 762.16L1279.94 762.1L1281.74 762.04L1283.54 761.98L1285.34 761.92L1287.15 761.86L1288.97 761.8L1290.78 761.74L1292.6 761.68L1294.43 761.63L1296.25 761.57L1298.08 761.52L1299.92 761.47L1301.76 761.41L1303.6 761.36L1305.45 761.31L1307.3 761.26L1309.15 761.21L1311.01 761.17L1312.87 761.12L1314.74 761.08L1316.61 761.03L1318.48 760.99L1320.36 760.95L1322.24 760.91L1324.12 760.87" stroke="#55a0ff" stroke-width="3.3" fill="none" stroke-linejoin="round" stroke-linecap="butt"/>
<path d="M852.6 1052.6L852.77 1051.28L852.92 1049.88L853.05 1048.46L853.17 1047.08L853.3 1045.37L853.4 1044.04L853.51 1042.52L853.62 1040.83L853.75 1038.95L853.88 1036.84L854.02 1034.36L854.09 1032.97L854.17 1031.47L854.24 1029.86L854.32 1028.12L854.41 1026.26L854.49 1024.26L854.58 1022.13L854.67 1019.84L854.76 1017.41L854.86 1014.8L854.95 1011.99L855.05 1008.76L855.15 1005.11L855.26 1001.11L855.36 996.8L855.47 992.26L855.58 987.58L855.7 982.85L855.82 977.76L855.94 972.16L856.06 966.35L856.18 960.64L856.31 955.4L856.44 950.99L856.57 947.03L856.71 943.27L856.85 939.7L856.99 936.29L857.13 933.02L857.28 929.86L857.43 926.77L857.58 923.71L857.74 920.63L857.89 917.53L858.05 914.44L858.22 911.37L858.39 908.33L858.55 905.34L858.73 902.42L858.9 899.59L859.08 896.86L859.26 894.26L859.45 891.81L859.64 889.53L859.83 887.36L860.02 885.29L860.22 883.31L860.42 881.4L860.62 879.55L860.83 877.73L861.03 875.94L861.25 874.14L861.46 872.33L861.68 870.61L861.9 868.9L862.13 867.23L862.36 865.58L862.59 863.95L862.82 862.36L863.06 860.78L863.3 859.23L863.55 857.71L863.8 856.21L864.05 854.73L864.3 853.27L864.56 851.84L864.82 850.44L865.09 849.06L865.36 847.7L865.63 846.35L865.91 845.04L866.18 843.75L866.47 842.47L866.75 841.22L867.04 839.98L867.34 838.77L867.63 837.58L867.93 836.41L868.54 834.13L869.17 831.91L869.81 829.78L870.46 827.71L871.13 825.71L871.81 823.78L872.51 821.92L873.23 820.11L873.95 818.37L874.7 816.68L875.46 815.05L876.23 813.47L877.02 811.95L877.83 810.47L878.65 809.04L879.49 807.66L880.34 806.33L881.21 805.03L882.1 803.78L883 802.57L883.92 801.4L884.85 800.26L885.8 799.16L886.77 798.1L887.76 797.06L888.76 796.06L889.78 795.09L890.81 794.16L891.86 793.24L892.93 792.36L894.02 791.51L895.13 790.68L896.25 789.87L897.39 789.09L898.55 788.33L899.72 787.59L900.91 786.88L902.12 786.19L903.35 785.51L904.6 784.86L905.86 784.22L907.15 783.6L908.45 783.01L909.77 782.42L911.11 781.85L912.47 781.3L913.84 780.77L915.24 780.25L916.65 779.74L918.08 779.25L919.54 778.77L921.01 778.3L922.5 777.84L924.01 777.4L925.54 776.97L927.09 776.55L928.65 776.14L930.24 775.74L931.85 775.35L933.48 774.98L935.12 774.61L936.79 774.25L938.48 773.9L940.18 773.55L941.91 773.22L943.66 772.9L945.43 772.58L947.22 772.27L949.03 771.97L950.85 771.67L952.71 771.39L954.58 771.1L956.47 770.83L958.38 770.56L960.31 770.3L962.27 770.04L964.25 769.8L966.24 769.55L968.26 769.31L970.3 769.08L972.36 768.85L974.44 768.63L976.55 768.41L978.68 768.2L980.82 767.99L982.99 767.79L985.18 767.59L987.4 767.39L989.63 767.2L991.89 767.01L994.17 766.83L996.47 766.65L998.8 766.48L1001.14 766.31L1003.51 766.14L1005.9 765.97L1007.11 765.89L1008.32 765.81L1009.53 765.73L1010.75 765.66L1011.98 765.58L1013.21 765.5L1014.45 765.43L1015.7 765.35L1016.95 765.28L1018.2 765.2L1019.46 765.13L1020.73 765.06L1022 764.99L1023.28 764.91L1024.57 764.84L1025.86 764.77L1027.15 764.71L1028.45 764.64L1029.76 764.57L1031.07 764.5L1032.39 764.44L1033.72 764.37L1035.05 764.31L1036.39 764.24L1037.73 764.18L1039.08 764.12L1040.43 764.05L1041.79 763.99L1043.16 763.93L1044.53 763.87L1045.91 763.81L1047.29 763.75L1048.68 763.69L1050.07 763.63L1051.48 763.58L1052.88 763.52L1054.3 763.46L1055.72 763.41L1057.14 763.35L1058.57 763.3L1060.01 763.24L1061.45 763.19L1062.9 763.13L1064.36 763.08L1065.82 763.03L1067.29 762.98L1068.76 762.93L1070.24 762.87L1071.73 762.82L1073.22 762.77L1074.72 762.72L1076.22 762.67L1077.73 762.63L1079.25 762.58L1080.77 762.53L1082.3 762.48L1083.83 762.43L1085.37 762.39L1086.92 762.34L1088.47 762.3L1090.03 762.25L1091.59 762.21L1093.17 762.16L1094.74 762.12L1096.33 762.07L1097.92 762.03L1099.51 761.99L1101.11 761.94L1102.72 761.9L1104.34 761.86L1105.96 761.82L1107.59 761.78L1109.22 761.74L1110.86 761.69L1112.51 761.65L1114.16 761.61L1115.82 761.58L1117.48 761.54L1119.15 761.5L1120.83 761.46L1122.51 761.42L1124.2 761.38L1125.9 761.35L1127.6 761.31L1129.31 761.27L1131.03 761.23L1132.75 761.2L1134.48 761.16L1136.21 761.13L1137.95 761.09L1139.7 761.06L1141.45 761.02L1143.22 760.99L1144.98 760.95L1146.75 760.92L1148.53 760.88L1150.32 760.85L1152.11 760.82L1153.91 760.79L1155.72 760.75L1157.53 760.72L1159.35 760.69L1161.17 760.66L1163 760.63L1164.84 760.59L1166.69 760.56L1168.54 760.53L1170.39 760.5L1172.26 760.47L1174.13 760.44L1176 760.41L1177.89 760.38L1179.78 760.35L1181.67 760.32L1183.58 760.29L1185.49 760.27L1187.4 760.24L1189.33 760.21L1191.26 760.18L1193.19 760.15L1195.14 760.13L1197.09 760.1L1199.04 760.07L1201.01 760.04L1202.97 760.02L1204.95 759.99L1206.93 759.96L1208.92 759.94L1210.92 759.91L1212.92 759.89L1214.93 759.86L1216.95 759.84L1218.97 759.81L1221 759.79L1223.04 759.76L1225.08 759.74L1227.13 759.71L1229.19 759.69L1231.25 759.66L1233.32 759.64L1235.4 759.62L1237.48 759.59L1239.57 759.57L1241.67 759.55L1243.77 759.52L1245.89 759.5L1248 759.48L1250.13 759.45L1252.26 759.43L1254.4 759.41L1256.54 759.39L1258.69 759.37L1260.85 759.34L1263.02 759.32L1265.19 759.3L1267.37 759.28L1269.56 759.26L1271.75 759.24L1273.95 759.22L1276.16 759.2L1278.37 759.18L1280.59 759.16L1282.82 759.14L1285.06 759.12L1287.3 759.1L1289.55 759.08L1291.8 759.06L1294.07 759.04L1296.34 759.02L1298.61 759L1300.9 758.98L1303.19 758.96L1305.48 758.94L1307.79 758.92L1310.1 758.91L1312.42 758.89L1314.75 758.87L1317.08 758.85L1319.42 758.83L1321.77 758.81L1324.12 758.8" stroke="#008000" stroke-width="3.3" fill="none" stroke-linejoin="round" stroke-linecap="butt"/>
<path d="M867.34 961.64V937.73M861.34 937.73H873.34M867.34 961.66V985.57M861.34 985.57H873.34" stroke="#55a0ff" stroke-width="2.6" fill="none"/>
<path d="M882.07 893.98V871.96M876.07 871.96H888.07M882.07 894V916.02M876.07 916.02H888.07" stroke="#55a0ff" stroke-width="2.6" fill="none"/>
<path d="M911.54 803.03V785.73M905.54 785.73H917.54M911.54 803.05V820.35M905.54 820.35H917.54" stroke="#55a0ff" stroke-width="2.6" fill="none"/>
<path d="M970.48 759.29V747.97M964.48 747.97H976.48M970.48 759.31V770.63M964.48 770.63H976.48" stroke="#55a0ff" stroke-width="2.6" fill="none"/>
<path d="M1088.36 792.33V784.16M1082.36 784.16H1094.36M1088.36 792.35V800.53M1082.36 800.53H1094.36" stroke="#55a0ff" stroke-width="2.6" fill="none"/>
<path d="M1324.12 788.24V780.38M1318.12 780.38H1330.12M1324.12 788.26V796.12M1318.12 796.12H1330.12" stroke="#55a0ff" stroke-width="2.6" fill="none"/>
<path d="M844.35 1044.6H860.85L852.6 1060.6Z" fill="#55a0ff"/>
<path d="M847.3 1038.62H863.8L855.55 1054.62Z" fill="#55a0ff"/>
<path d="M859.09 953.65H875.59L867.34 969.65Z" fill="#55a0ff"/>
<path d="M873.82 885.99H890.32L882.07 901.99Z" fill="#55a0ff"/>
<path d="M903.29 795.04H919.79L911.54 811.04Z" fill="#55a0ff"/>
<path d="M962.23 751.3H978.73L970.48 767.3Z" fill="#55a0ff"/>
<path d="M1080.11 784.34H1096.61L1088.36 800.34Z" fill="#55a0ff"/>
<path d="M1315.87 780.25H1332.37L1324.12 796.25Z" fill="#55a0ff"/>
<rect x="846.2" y="1046.2" width="12.8" height="12.8" fill="none" stroke="#008000" stroke-width="3"/>
<rect x="849.15" y="1018.51" width="12.8" height="12.8" fill="none" stroke="#008000" stroke-width="3"/>
<rect x="860.94" y="779.96" width="12.8" height="12.8" fill="none" stroke="#008000" stroke-width="3"/>
<rect x="875.67" y="765.17" width="12.8" height="12.8" fill="none" stroke="#008000" stroke-width="3"/>
<rect x="905.14" y="784.37" width="12.8" height="12.8" fill="none" stroke="#008000" stroke-width="3"/>
<rect x="964.08" y="769.26" width="12.8" height="12.8" fill="none" stroke="#008000" stroke-width="3"/>
<rect x="1081.96" y="775.24" width="12.8" height="12.8" fill="none" stroke="#008000" stroke-width="3"/>
<rect x="1317.72" y="769.26" width="12.8" height="12.8" fill="none" stroke="#008000" stroke-width="3"/>
<path d="M855.55 857.48V850.56M849.55 850.56H861.55M855.55 857.5V864.41M849.55 864.41H861.55" stroke="#ff0000" stroke-width="2.6" fill="none"/>
<path d="M1088.36 812.47V805.25M1082.36 805.25H1094.36M1088.36 812.49V819.72M1082.36 819.72H1094.36" stroke="#ff0000" stroke-width="2.6" fill="none"/>
<path d="M1324.12 806.81V799.27M1318.12 799.27H1330.12M1324.12 806.83V814.37M1318.12 814.37H1330.12" stroke="#ff0000" stroke-width="2.6" fill="none"/>
<circle cx="852.6" cy="1052.6" r="6.7" fill="#ff0000"/>
<circle cx="855.55" cy="857.49" r="6.7" fill="#ff0000"/>
<circle cx="867.34" cy="843.01" r="6.7" fill="#ff0000"/>
<circle cx="882.07" cy="831.37" r="6.7" fill="#ff0000"/>
<circle cx="911.54" cy="843.32" r="6.7" fill="#ff0000"/>
<circle cx="970.48" cy="825.07" r="6.7" fill="#ff0000"/>
<circle cx="1088.36" cy="812.48" r="6.7" fill="#ff0000"/>
<circle cx="1324.12" cy="806.82" r="6.7" fill="#ff0000"/>
<path d="M841.6 1157H875.7" stroke="#ff0000" stroke-width="3.2"/>
<circle cx="858.7" cy="1157" r="6.6" fill="#ff0000"/>
<path d="M1035 1157H1068.7" stroke="#008000" stroke-width="3.2"/>
<rect x="1045.55" y="1150.55" width="12.9" height="12.9" fill="none" stroke="#008000" stroke-width="3"/>
<path d="M1232.5 1157H1266.2" stroke="#55a0ff" stroke-width="3.2"/>
<path d="M1240.65 1149H1257.15L1248.9 1165Z" fill="#55a0ff"/>
<text x="893.74" y="1166" font-size="24" font-weight="bold" textLength="119.88" lengthAdjust="spacingAndGlyphs">Lynronne 1</text>
<text x="1087.54" y="1166" font-size="24" font-weight="bold" textLength="120.22" lengthAdjust="spacingAndGlyphs">Lynronne 2</text>
<text x="1284.17" y="1166" font-size="24" font-weight="bold" textLength="51.53" lengthAdjust="spacingAndGlyphs">P15s</text>
</svg>
</body></html>
